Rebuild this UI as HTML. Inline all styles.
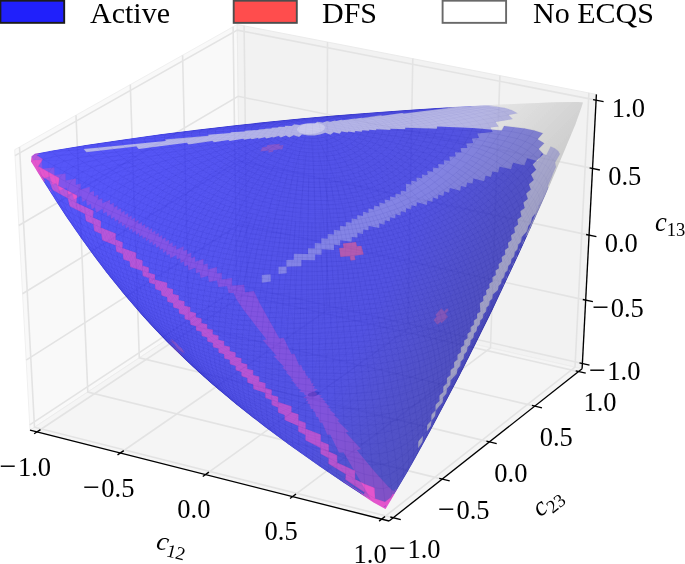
<!DOCTYPE html>
<html><head><meta charset="utf-8"><title>Elliptope</title>
<style>html,body{margin:0;padding:0;background:#fff;overflow:hidden}svg{display:block;font-family:"Liberation Serif",serif;fill:#000}</style>
</head><body>
<svg width="685" height="564" viewBox="0 0 685 564">
<polygon points="30,430.2 240.7,290.8 237.2,24.5 14.7,149.7" fill="#f9f9f9" stroke="#f0f0f0" stroke-width="1"/>
<polygon points="240.7,290.8 582.1,368.8 596.4,94.4 237.2,24.5" fill="#f2f2f2" stroke="#ebebeb" stroke-width="1"/>
<polygon points="30,430.2 389.1,521 582.1,368.8 240.7,290.8" fill="#f5f5f5" stroke="#ededed" stroke-width="1"/>
<g fill="none" stroke="#e3e3e3" stroke-width="1.6"><polyline points="36.8,432 247.3,292.3 244.1,25.8"/><polyline points="393.3,517.7 34.5,427.2 19.5,147"/><polyline points="29.7,424.9 240.6,285.8 582.4,363.5"/><polyline points="120.2,453 326.7,310.5 327.5,42"/><polyline points="442.3,479.1 87.8,392 76,115.2"/><polyline points="26.1,360.1 239.8,224.1 585.7,300.1"/><polyline points="205.4,474.6 407.8,329 412.8,58.6"/><polyline points="489.4,441.9 139.3,357.9 130.3,84.6"/><polyline points="22.5,293.7 239,160.9 589,235.1"/><polyline points="292.6,496.6 490.5,347.9 499.9,75.6"/><polyline points="534.8,406.1 188.9,325.1 182.6,55.2"/><polyline points="18.8,225.5 238.1,96.3 592.5,168.4"/><polyline points="381.6,519.1 575,367.1 588.9,92.9"/><polyline points="578.5,371.6 236.8,293.4 233.1,26.8"/><polyline points="15,155.6 237.3,30.1 596.1,100.1"/></g>
<defs><linearGradient id="bg" gradientUnits="userSpaceOnUse" x1="225.2" y1="-73.6" x2="584.8" y2="101.2"><stop offset="0" stop-color="#2020f8"/><stop offset="0.75" stop-color="#1f1fdc"/><stop offset="0.925" stop-color="#1d1dba"/><stop offset="1" stop-color="#1d1daf"/></linearGradient><linearGradient id="wg" gradientUnits="userSpaceOnUse" x1="500" y1="95" x2="570" y2="165"><stop offset="0" stop-color="#e2e2e2"/><stop offset="1" stop-color="#bcbcbc"/></linearGradient>
<clipPath id="sil"><path d="M34.7,153.7 53.3,150.2 86.8,144.8 127.9,138.7 161.3,134.1 199.9,129.2 236.4,124.9 301.4,118.3 338.5,115 377.4,111.9 415.9,109.2 451.2,107.1 501.2,104.5 556,102.2 577.6,101.9 582.9,102.4 581,108.6 575.3,124.5 563.4,153.1 545.6,194.8 530.9,227.8 518.3,255.5 491.9,311.4 476.5,342.6 459.7,375.7 431.1,429.7 415.7,457.8 407.5,472.3 385.5,509.1 373.7,502.6 343.4,482.8 319.5,466.6 289.1,445.1 264.8,427.1 236.1,404.5 210.5,382.9 198,371.7 185.9,360.5 166.9,341.9 154.9,329.4 142.7,316.2 124.2,294.8 106,272.2 93.2,255.3 81.1,238.6 65.5,215.9 55.3,200.3 43.9,182.3 31.1,161.4 31.5,156.2Z"/></clipPath></defs>
<g opacity="0.5" clip-path="url(#sil)">
<path d="M34.7,153.7 53.3,150.2 86.8,144.8 127.9,138.7 161.3,134.1 199.9,129.2 236.4,124.9 301.4,118.3 338.5,115 377.4,111.9 415.9,109.2 451.2,107.1 501.2,104.5 556,102.2 577.6,101.9 582.9,102.4 581,108.6 575.3,124.5 563.4,153.1 545.6,194.8 530.9,227.8 518.3,255.5 491.9,311.4 476.5,342.6 459.7,375.7 431.1,429.7 415.7,457.8 407.5,472.3 385.5,509.1 373.7,502.6 343.4,482.8 319.5,466.6 289.1,445.1 264.8,427.1 236.1,404.5 210.5,382.9 198,371.7 185.9,360.5 166.9,341.9 154.9,329.4 142.7,316.2 124.2,294.8 106,272.2 93.2,255.3 81.1,238.6 65.5,215.9 55.3,200.3 43.9,182.3 31.1,161.4 31.5,156.2Z" fill="url(#bg)"/>
<path d="M547.7,186.6 548.8,187.5 550.2,187.7 551.3,187.3 552.2,186.2 567.5,149.6 571.4,141.2 574.5,132.1 577.6,126 583.8,108.6 585.4,102.6 584.6,100.6 583.4,99.9 577.8,99.2 569,99.9 556.1,99.6 548,100.3 536.6,100.3 495,102.2 495,104.8 471.3,105.9 471.3,106.2 489.1,106.1 497.4,106.8 505.1,108.1 512,110.2 517.4,113.2 508.6,115 512.6,119.1 495.6,122 498.5,126.4 490.4,127.4 492.6,132.1 477.3,133.6 479,138.1 471.8,138.6 473.2,143.1 466.2,143.4 467.3,147.9 460.5,147.9 461.4,152.4 454.9,152.3 455.6,156.6 449.3,156.4 449.9,160.7 443.7,160.3 444.2,164.5 438.1,164 438.6,168.2 432.7,167.6 433.1,171.7 427.2,171.1 427.6,175.1 421.8,174.4 422.1,178.3 416.4,177.6 416.7,181.5 411.1,180.7 411.4,184.6 405.8,183.8 406.2,191.5 400.7,190.6 400.8,194.5 395.4,193.6 395.5,197.5 390,196.5 390.1,200.4 384.7,199.5 384.8,203.4 379.3,202.5 379.4,206.4 373.9,205.5 374,209.5 368.4,208.6 368.5,212.7 362.9,211.8 362.9,215.9 357.2,215.1 357.3,219.3 351.6,218.5 351.6,222.8 345.8,222 345.8,226.5 339.9,225.8 339.9,230.4 333.8,229.7 333.9,234.5 327.7,233.9 327.7,238.8 321.3,238.3 321.3,243.5 314.8,243.1 314.8,248.5 308,248.3 308,253.9 293.9,253.8 293.8,259.8 286.3,260 286.3,266.4 278.5,266.8 278.5,273.9 286.7,273.3 286.6,266.7 301.4,266.2 301.4,260.1 315.1,260.2 315.1,254.4 321.6,254.7 321.6,249.2 334,250 334.1,244.8 340.1,245.4 340.2,240.3 351.7,241.8 351.8,236.9 357.4,237.8 357.5,233.1 363,234 363.2,229.4 368.5,230.3 368.7,225.9 379.2,228 379.4,223.6 384.6,224.7 384.8,220.3 389.9,221.5 390.2,217.2 395.2,218.4 395.5,214.2 400.6,215.4 400.9,211.2 405.9,212.4 406.2,208.2 411.2,209.5 411.5,205.3 416.6,206.5 416.9,202.3 426.9,204.9 427.4,200.6 432.4,202 432.9,197.6 437.9,199 438.4,194.5 443.5,195.9 444.1,191.4 449.2,192.7 449.8,188.1 460.2,190.8 461,186 466.2,187.3 467.1,182.4 472.5,183.7 473.4,178.6 484.2,181.2 485.5,175.7 491,177 492.4,171.4 498.1,172.6 499.6,166.7 511,169.2 513.1,162.7 524.4,165.4 527.2,158.2 537.8,161.3 541.6,153.4 546.4,155.1 550.7,146.5 555,148.4 558.2,150.9 559.9,153.9 555.1,162.6 555.9,166.9ZM270.6,274.2 261.8,275 261.8,282.7 270.8,281.6Z" fill="url(#wg)"/>
<path d="M41.5,181.3 42.9,182.3 44.8,182 45.3,181.7 43.9,179.5 45.8,177.8 49.5,176.5 52.6,184.8 56.3,183.3 59.1,191 66.5,187.7 68.4,194.6 72.1,192.9 73.9,199.5 81.2,195.9 82.4,201.9 86,200.1 87.2,205.8 90.6,203.9 91.7,209.4 95,207.4 96.1,212.7 102.6,208.7 103.3,213.6 106.6,211.7 107.3,216.5 110.4,214.4 111.1,219.1 114.2,217 114.9,221.6 117.9,219.5 118.6,224 121.5,221.9 122.2,226.3 125.1,224.2 125.7,228.5 128.6,226.4 129.2,230.6 132,228.5 132.6,232.8 135.5,230.7 136,234.9 138.9,232.8 139.4,236.9 142.2,234.9 142.8,239 145.6,237 146.1,241.2 149,239.1 149.5,243.4 152.3,241.3 152.9,245.6 155.7,243.6 156.3,247.9 159.1,246 159.7,250.3 162.6,248.4 163.2,252.9 166.1,251 166.7,255.6 169.6,253.7 170.3,258.4 176.3,254.9 176.9,259.7 180.1,258.1 180.6,263 183.9,261.4 184.5,266.6 187.8,265.1 188.6,270.4 195.3,267.7 196.1,273.3 199.6,272.1 200.5,277.9 208,275.9 209,282.1 217,280.5 218.2,287.1 227,286.2 228.7,293.1 233.5,293 236.5,299.4 243.8,310.3 266.6,339.6 262.6,339.9 276.4,355.7 273.7,356 284.2,367 282.2,367.2 287.5,372.3 285.9,372.5 291.4,377.4 290.2,377.6 293.1,379.9 291.1,380.3 294.3,382.6 293.5,382.8 296.8,385 294.9,385.4 298.7,387.6 297,388.1 301.4,390.1 299.1,391.4 304.6,392.7 304.2,393.5 304.4,394.4 306.7,395.8 303.3,397.7 307.3,398.7 305.8,401 308.2,401.3 307.4,403.7 309.8,403.9 309.7,406.4 310.6,406.5 310.7,409 313.1,409.1 313.5,411.7 314.9,411.8 316.3,417.1 318.1,417.1 320,422.7 322.2,422.7 327.2,434.7 330.3,434.7 339,452.4 343.6,452.4 370.5,498.7 365.7,495.6 368.2,499.9 372.2,504.8 383.8,509.9 385.7,509.3 386.6,508 392.4,502.5 398.3,492.9 398.6,491.7 398.2,490.5 395.8,489 394.5,491.1 392.2,490.2 387.7,486.1 374.6,471.4 356.9,450.3 361,449 345.8,432.6 348.7,431.8 337.5,420.7 339.5,420.1 333.9,415.1 335.5,414.6 329.8,409.9 331,409.5 328,407.2 330.1,406.6 326.8,404.5 327.6,404.2 324.2,402.1 326.1,401.4 322.3,399.5 324,398.7 319.6,397.1 321.9,395.4 316.3,394.6 316.7,393.8 316.5,392.8 314.2,391.5 317.6,389.2 313.6,388.6 315.1,386 312.8,385.9 313.5,383.3 311.1,383.3 311.3,380.7 310.3,380.7 310.2,378.1 307.9,378.2 307.4,375.6 306.1,375.7 304.8,370.4 303,370.6 301.2,365.1 299.1,365.3 294.4,353.8 291.4,354.1 283.6,337.8 279.3,338.3 259.8,303.3 253.9,291 245.1,292.3 244.1,284.7 232.2,285.5 232.1,278.1 221.8,279.5 221.7,272.7 216.9,273.6 216.9,267.1 207.8,269.4 207.7,263.4 203.4,264.7 203.4,259 195.2,261.8 195.1,256.4 191.2,257.9 191.2,252.7 187.3,254.3 187.3,249.4 183.5,251 183.6,246.2 176.3,249.7 176.2,245 172.7,246.8 172.6,242.3 169.2,244.2 169.1,239.8 165.7,241.6 165.6,237.3 162.2,239.2 162.2,234.9 158.8,236.9 158.8,232.7 155.4,234.6 155.4,230.5 152,232.4 152,228.3 148.7,230.3 148.6,226.2 145.3,228.2 145.2,224.1 141.9,226 141.9,221.9 138.5,223.9 138.5,219.8 135.1,221.8 135.1,217.6 131.7,219.6 131.6,215.4 128.2,217.3 128.2,213.1 124.7,215 124.6,210.7 121.1,212.6 121.1,208.2 117.5,210 117.5,205.5 113.8,207.4 113.8,202.8 110,204.5 110.1,199.8 102.4,203.2 102.2,198.2 98.3,199.9 98.2,194.7 94,196.3 94,190.9 89.7,192.4 89.8,186.8 80.7,189.5 80.6,183.5 75.8,184.7 76,178.4 65.7,180.4 65.6,173.5 54.6,175.1 54.3,167.5 42.5,168.5 41.8,160 34.6,159.9 32.7,160.6 32.9,157.9 29.8,159.1 28.5,160.5 28.6,162.4 35.8,174.2 36.7,174.9 38.1,175.1ZM38.3,170.3 38.3,170.3 38.4,170.4ZM384.9,507.1 384.3,506.7 386.3,504.9Z" fill="#d41fc2"/>
<path d="M262.4,147.2 260.2,151.4 268.9,150.5 268.1,152.5 272.9,152.1 273.6,150.1 282.3,149.2 283.6,145.1 279.4,145.5 280,143.7 267.5,144.9 266.6,146.8ZM437.4,324.8 440.5,321.7 441.6,323.3 448,316.9 445.6,313.5 448.6,310.2 447.1,308.3 444.2,311.5 441.3,308.3 435.3,315.1 436.7,316.6 433.6,319.9ZM183.3,353.4 182.4,351.8 185.4,354.1 182,348.5 178.7,346 177.9,344.4 171,338.6 172.8,341.9 169.8,339.4 171.2,341.9 174.3,344.5 176.7,348ZM167.4,340.3 169.3,343.4 172.4,346.1 174.9,349.8 182,355.5 183.3,355.9Z" fill="#dc2f7a"/>
</g>
<g opacity="0.5" clip-path="url(#sil)">
<path d="M34.7,153.7 53.3,150.2 86.8,144.8 127.9,138.7 161.3,134.1 199.9,129.2 236.4,124.9 301.4,118.3 338.5,115 377.4,111.9 415.9,109.2 451.2,107.1 501.2,104.5 556,102.2 577.6,101.9 582.9,102.4 581,108.6 575.3,124.5 563.4,153.1 545.6,194.8 530.9,227.8 518.3,255.5 491.9,311.4 476.5,342.6 459.7,375.7 431.1,429.7 415.7,457.8 407.5,472.3 385.5,509.1 373.7,502.6 343.4,482.8 319.5,466.6 289.1,445.1 264.8,427.1 236.1,404.5 210.5,382.9 198,371.7 185.9,360.5 166.9,341.9 154.9,329.4 142.7,316.2 124.2,294.8 106,272.2 93.2,255.3 81.1,238.6 65.5,215.9 55.3,200.3 43.9,182.3 31.1,161.4 31.5,156.2Z" fill="url(#bg)"/>
<path d="M454.4,106.9 446.2,107.6 448.6,108 403.9,113.4 402.2,112.9 382.3,115.7 380.9,115.2 362.5,118.1 361.5,117.8 355.7,118.8 354.8,118.4 342.9,120.2 341.4,119.8 336.2,120.9 334.9,120.5 330.1,121.8 327.1,121.1 323,122.5 317.3,121.7 315,123.4 306.4,123.5 302.3,124.2 299.5,125.1 294.2,124.3 291.6,126.1 285.3,125.8 284.7,126.7 278.3,126.7 278.1,127.6 271.5,127.7 271.5,128.5 264.8,128.7 264.9,129.1 258.2,129.5 258.3,130 244.5,130.7 244.8,131.4 230.4,132.3 230.8,133.1 207.9,134.8 208.5,135.8 164.9,139.5 165.8,141.1 83.6,148.9 86.3,152.2 136.4,146.5 138.6,148.9 186.8,142.7 188.4,144.4 212.4,140.9 213.8,142.3 228.3,140 229.5,141.1 243.1,138.7 244.1,139.7 250.6,138.4 251.6,139.3 257.8,138 258.7,138.7 264.7,137.3 266.5,138.6 272.2,137.1 273,137.7 278.5,136.1 280.8,137.4 285.8,135.6 289.4,137.4 293.6,135.2 299.1,137 301.9,134.4 308.1,135.4 314.5,135.5 320.2,134.6 325.4,132.7 330.4,134.8 333.9,132.3 339.7,133.7 341.5,131.6 347.8,132.6 348.4,131.5 354.8,132.4 355.4,131 361.9,131.7 362.4,130.2 369.1,130.7 369.3,129.8 376.2,130.2 376.3,129.2 390.4,130 390.5,128.7 405.2,129.3 405.3,127.8 436.9,128.8 437.3,126.6 472.8,127.9 501.8,130.4 504.1,126.1 524.6,128.4 534.3,130.4 542.8,133.2 537.6,139.2 544.2,143.3 538.6,149.1 543.4,154.1 532.6,164.6 536.1,169.8 531,174.5 533.7,179.9 528.8,184.2 530.8,189.6 526.1,193.6 527.8,199 523.3,202.6 524.6,207.9 520.3,211.3 521.4,216.4 517.3,219.6 518.1,224.6 514.1,227.6 514.9,232.5 511,235.3 511.6,240.1 507.9,242.7 508.4,247.5 504.8,250 505.2,254.6 501.6,257 502.1,261.5 498.5,263.9 498.9,268.3 495.4,270.6 495.8,275 492.3,277.2 492.6,281.6 489.2,283.7 489.5,288.1 486.1,290.2 486.4,294.5 483,296.6 483.3,300.9 479.8,303 480.3,311.7 477,313.8 477.1,318.2 473.8,320.4 473.9,324.8 470.6,327 470.7,331.4 467.4,333.7 467.5,338.2 464.1,340.6 464.2,345.1 460.8,347.6 460.9,352.3 457.4,354.8 457.5,359.6 454,362.3 454.1,367.2 450.5,370 450.5,375.1 446.9,378.1 446.9,383.3 443.2,386.6 443.2,391.9 439.4,395.4 439.4,401 435.5,404.8 435.4,410.4 431.4,414.6 431.2,420.4 427.2,425.1 426.8,431.5 430.9,426 431.5,420.6 435.2,416 435.7,410.6 442.7,402.3 443.2,397.3 446.5,393.5 447,388.6 450.3,385.1 450.7,380.2 456.9,373.7 457.4,369.1 460.3,366.1 460.8,361.6 463.7,358.7 464.2,354.3 467,351.6 467.5,347.2 470.3,344.6 470.7,340.3 473.5,337.8 474,333.6 476.7,331.1 477.1,326.9 479.9,324.6 480.3,320.4 483,318.1 483.4,313.9 486.1,311.6 486.5,307.5 489.2,305.2 489.7,301 492.4,298.8 492.8,294.6 498,290.1 498.6,285.9 501.2,283.6 501.8,279.4 504.3,277.1 505,272.7 507.6,270.4 508.2,266 510.8,263.5 511.5,259 514.2,256.5 514.9,251.9 517.6,249.3 518.3,244.6 521,241.9 521.8,237 527.2,231.3 528.3,226.1 531,223.1 532.1,217.6 535.8,213.2 525,237.2 529.3,232.6 530.6,227.2 533.4,223.8 534.5,218.7 539.5,212.6 541.3,206.4 545.6,200.5 547.9,196 571.9,139.7 574.9,131.1 577.8,125.4 583.5,109.5 585.4,102.4 585.1,101.2 584,100.1 578.6,99.2 569,99.9 555.1,99.6 545.3,100.3 535.1,100.3 495,102.3 495,104.9ZM539,205.3 539.7,204.4 538.6,206.8ZM508.4,273 510,271 510.3,269ZM505.3,279.5 506.8,277.7 507,275.9ZM502.3,286 503.6,284.2 503.8,282.7ZM499.3,292.3 500.4,290.7 500.6,289.4ZM418.3,441.3 418,448.3 422.5,442.1 423.1,435.7ZM521.5,244.9 523.5,242.3 523.9,239.6ZM518.2,252.2 520,249.9 520.4,247.4ZM514.9,259.3 516.6,256.9 516.9,255ZM511.6,266.2 513.3,263.9 513.6,262.1Z" fill="url(#wg)"/>
<path d="M28.4,159.8 28.4,161.9 35.9,174.2 40.7,178.7 45.1,181.4 42.2,176.7 49.2,181 52.6,189.9 67.8,198.6 69.6,206.3 84.9,214 85.9,221 93.2,224.3 94.3,230.9 101.2,234 102.3,240.2 115.6,245.6 116.2,251.4 122.7,253.9 123.4,259.4 129.6,261.6 130.2,266.9 142.3,271 142.7,276.1 148.7,277.9 149.1,282.8 154.9,284.6 155.3,289.3 161,291 161.4,295.6 167,297.2 167.3,301.7 172.9,303.2 173.2,307.6 178.7,309.1 179,313.4 184.4,314.9 184.7,319.2 190.1,320.6 190.4,324.8 195.8,326.2 196.1,330.4 201.4,331.8 201.7,336 207.1,337.4 207.3,341.6 212.7,343 212.9,347.2 218.3,348.6 218.6,352.8 224,354.3 224.2,358.5 229.7,360.1 229.9,364.3 235.5,366 235.7,370.2 241.3,372 241.5,376.3 247.1,378.1 247.3,382.5 253.1,384.5 253.3,389 265.2,393.1 265.3,397.9 271.5,400.1 271.6,405 277.9,407.4 278,412.4 284.5,415.1 284.6,420.1 298.2,426.1 298.2,431.5 305.4,434.9 305.4,440.3 320.5,447.9 320.5,453.8 328.5,458.2 328.4,463.8 345.7,474.2 345.3,479.6 364.5,492.4 363.8,494.3 343.1,480.8 343.5,481.4 361.5,493.4 360.8,495.7 361.5,497.5 372.1,504.8 381.4,508.9 384.6,511.4 386,511.5 387.3,510.8 388,509 387.3,507.3 392.9,501.7 394.9,496.7 394.8,495.5 394.2,494.4 392.9,493.7 390.6,497.5 384.9,501.8 375.2,498.5 374.5,487.7 364.8,484 355.2,479.2 355.1,470.8 337.3,462.5 337.2,455.2 328.9,451.5 328.8,444.5 320.8,441.3 320.8,434.5 305.7,428.8 305.7,422.7 298.5,420.2 298.5,414.3 291.5,412 291.6,406.3 278.2,402.1 278.2,396.8 271.7,394.9 271.8,389.8 265.5,388 265.5,383 259.3,381.4 259.3,376.5 253.2,375 253.3,370.3 247.3,368.8 247.3,364.2 241.4,362.8 241.5,358.2 235.6,356.9 235.7,352.4 229.9,351.1 229.9,346.6 224.2,345.4 224.2,341 218.5,339.8 218.6,335.4 212.8,334.2 212.9,329.8 207.2,328.6 207.3,324.2 201.6,323 201.6,318.6 195.9,317.3 196,312.9 190.2,311.6 190.3,307.1 184.5,305.8 184.6,301.3 178.8,299.9 178.9,295.3 173,293.9 173.1,289.2 167.1,287.6 167.3,282.8 155,279.5 155.1,274.6 148.8,272.7 148.9,267.6 142.5,265.6 142.7,260.4 136.1,258.2 136.3,252.8 122.6,248 122.7,242.2 115.6,239.5 115.9,233.5 100.9,227.4 101,221 93.1,217.5 93.6,210.8 76.5,202.7 77.1,195.5 58.4,185.8 59.4,178.1 38.4,166.3 43,159.2 36.7,154.9 40.1,154.2 35.7,151.2 33.6,151.3 29.3,154.9 28.8,159.2ZM384.3,506.7 386.3,504.8 384.9,507.1ZM50.2,190.8 52.2,192.6 49,187.6Z" fill="#e222be"/>
<path d="M356,242 342.8,243.4 343.5,247.8 339.1,248.1 340.4,257.1 349.7,256.2 350.5,260.6 355.5,260 354.6,255.7 363.7,254.5 361.4,245.7 357,246.3Z" fill="#dc2f7a"/>
</g>
<ellipse cx="311" cy="128.5" rx="14" ry="5.5" fill="#fff" opacity="0.3" transform="rotate(-5.5 311 128.5)"/>
<ellipse cx="313.5" cy="394" rx="6" ry="2.2" fill="#1a1a9a" opacity="0.3" transform="rotate(-12 313.5 394)"/><g fill="none" stroke="#00008c" stroke-width="0.6" clip-path="url(#sil)"><path d="M318.5,116.8 277.8,120.6M332.5,115.5 264,122M342.6,114.7 253.8,123.1M351.7,113.9 292.4,120 243.2,124.2M361.9,113.1 291.2,120.8 235,125.1M370.6,112.4 289.9,121.7 225,126.3M380,111.7 288.8,122.7 216,127.3M390.1,111 373.2,112.7 320.8,120 287.6,123.8 259.1,126 208.1,128.2M398.2,110.4 380.1,112.4 318.3,121.4 286.6,125 254,127.4 208.9,128.6 198.4,129.4M409.9,109.7 387.3,112.1 321.8,122.1 285.5,126.3 245.9,129 198.9,129.8 189.8,130.5M419.2,109 398.5,111.3 325.6,122.8 284.5,127.7 240.3,130.6 180.7,131.6M429.2,108.4 406.9,110.9 329.6,123.6 283.5,129.1 234.5,132.3 179.5,132.4 169.6,133.1M439.8,107.8 415.8,110.6 333.9,124.4 282.5,130.6 253.6,132.9 228.5,134.1 204.1,134.4 170.2,133.7 159.5,134.4M451.2,107.1 429.8,109.6 338.4,125.3 281.6,132.2 251.6,134.6 222.4,135.9 196.8,136.1 157.9,135.2 148.9,135.8M463.5,106.4 440.3,109.2 380.2,120.2 347.2,125.6 312.9,130.3 280.7,133.8 246.4,136.5 216.1,137.9 185.9,138 147.4,136.7 137.7,137.4M472,106 451.5,108.8 391.6,120 356.6,125.9 316.8,131.4 279.8,135.4 244.4,138.3 209.6,139.9 178,140 136.3,138.4 125.7,139.1M480.6,105.8 366.7,126.2 324.9,132 279,137.1 235.3,140.6 199.3,142.2 165.9,142.1 124.5,140.3 112.9,141M489.1,106 412.2,120.6 372.9,127.2 325.3,133.7 274.3,139.2 229.6,142.8 188.5,144.6 157.2,144.5 111.9,142.3 101.6,142.6M497.4,106.6 432.2,119.4 384.2,127.6 329.9,134.9 269.5,141.3 219.9,145.3 177.2,147.1 143.9,147 98.5,144.6 86.8,144.8M505.2,107.9 441.8,120.5 391.2,128.8 330.3,136.7 260.7,143.9 205.9,148.2 161.1,150 129.8,149.8 79.2,147 70.8,147.3M512.1,110.1 451.8,121.8 393.2,130.9 326.4,139.1 239.5,147.6 187,151.5 143.8,153.2 109.6,152.8 63.2,150 53.3,150.2M517.8,113.3 462.1,123.5 411.7,131 354.5,138 279.1,145.7M266.7,146.9 188.5,153.7 135.1,156.6 93.2,156.5 68.2,155.4 39.2,153.1 34.7,153.7M512.9,119.2 465.2,126.8 413.8,133.6 282.8,147.2M261.5,149.2 185.9,156.3 136.3,159.9 88.6,161.3 34.6,160.1 31.1,161.4M498.7,126.5 404.2,137.6 161.1,161.1 107.5,165.2 47.9,168.1 42.3,168.7 38.3,169.9 37.7,172.3M492.8,132.2 272.7,151.9 65.5,173.7 54.5,175.3 45.7,177.7 43.6,179.7 43.9,182.3M479.2,138.2 342.8,147.8 258.6,155.3 209.9,160.6 151.2,168 91.7,176.1 65.5,180.6M56.4,183.1 52.7,184.6 50.1,186.5 49,188.8 49.7,191.6M560.1,153.9 558.3,150.8 555.1,148.3 550.6,146.4M473.4,143.2 414.8,145.8 348.5,149.7 299.3,153.4 253.1,157.8 203.6,163.6 153.5,170.7 105.3,178.6 75.7,184.8M66.6,187.5 59.2,190.8 56.5,192.7 54.8,194.9 54.3,197.4 55.3,200.3M554.8,173.4 555.9,169.6 556.1,165.9 555.2,162.6 553.3,159.7 550.4,157.1 541.5,153.2M467.5,148 416.2,149.1 354.4,151.8 299.1,155.5 252,159.9 201.8,166.2 151.2,174.1 108.6,182.4 80.6,189.7M72.2,192.7 65.2,196.3 60.5,200.5 59.5,202.9 59.4,205.5 60.5,208.3M550.1,184.5 551.9,177.3 551.6,173.9 550.6,170.8 548.6,167.9 542.1,163.1 537.7,161.1 527.1,158M461.6,152.5 411.4,152.5 355.1,154.2 303.9,157.3 255.7,161.6 204.6,168.1 158.5,175.8 116.6,184.8 89.5,192.6M81.3,195.7 70.9,201.2 66.1,205.5 64.1,210.3 64.3,213 65.5,215.9M545.6,194.8 547.7,188 547.8,184.7 546.1,178.5 544.1,175.7 541.4,173.1 534,168.7 524.3,165.2 513,162.5M455.8,156.8 406.5,155.8 355.7,156.7 303.7,159.4 254.8,163.8 207.6,169.9 161.2,178.2 124.4,186.7 106.6,192 93.9,196.5M86.1,199.9 76.2,205.6 71.5,210 68.9,214.8 68.6,217.4 70.3,222.9M541.3,204.6 543.6,198 543.9,191.7 541.8,185.8 537.2,180.5 530.3,175.9 521.4,172.1 510.9,169 499.5,166.5M450,160.8 401.6,159 350.9,159.4 303.6,161.7 253.9,166.1 206,172.5 164,180.5 127.6,189.7 110.3,195.3 98.1,200.1M90.7,203.7 84.1,207.6 78.7,211.8 74.8,216.4 73.6,218.9 73,224.1 73.6,226.8 76.8,232.4M537.2,213.7 540.2,204.4 539.9,198.3 537.6,192.6 533.1,187.4 526.6,182.8 518.3,178.7 508.7,175.3 492.3,171.2M444.4,164.7 402.5,162.3 351.5,162 303.5,163.9 253,168.3 209.2,174.4 166.9,182.7 130.9,192.4 113.9,198.4 102.2,203.5M95.1,207.2 88.8,211.2 83.5,215.5 78.3,222.6 77,227.7 77.2,230.4 79.2,235.8 81.1,238.6M533.3,222.4 536.5,213.5 536.7,207.6 535.1,201.9 533.6,199.2 529.2,194 523,189.3 510.9,183.2 501.4,179.8 485.4,175.6M438.8,168.4 397.5,165.5 352,164.7 303.4,166.3 257.1,170.1 212.6,176.2 174.6,183.7 156.2,188.3 138.4,193.6 121.6,199.6 109.9,204.7M102.7,208.5 90.6,216.7 86,221.2 82.8,226 81.1,231.1 81.3,236.3 83.4,241.7 85.3,244.4M530.9,227.8 533.3,219.2 532.4,210.8 527.8,202.8 522.7,197.9 516.1,193.4 503.8,187.4 489.3,182.4 473.3,178.4M433.2,171.9 392.4,168.5 347,167.4 303.3,168.6 256.2,172.5 211.2,178.9 173,186.9 141.6,196.1 125.1,202.3 113.6,207.6M106.7,211.4 97.5,217.6 92.5,222 88.6,226.7 86,231.6 84.8,236.7 85.3,242 89.3,250M527.3,235.8 529.9,227.5 529.6,219.3 526,211.3 519.1,203.9 509.3,197.2 496.9,191.3 482.7,186.4 467,182.2M427.7,175.3 387.3,171.5 341.8,170.1 297.8,171.4 255.4,174.9 214.8,180.7 176.2,189 144.9,198.4 128.5,204.9 117.3,210.3M110.6,214.2 101.7,220.4 96.8,224.9 92.9,229.6 90.1,234.5 88.7,239.6 88.6,244.8 90.1,250 93.2,255.3M523.8,243.5 526,238.1 526.9,232.8 526.1,224.7 522.3,217 515.7,209.6 506.3,202.9 494.6,196.9 481.1,191.6 460.9,185.8M422.3,178.5 382.2,174.4 342.2,172.9 297.6,173.9 254.6,177.4 213.4,183.5 179.5,191 148.1,200.7 131.9,207.3 121,212.8M114.3,216.8 105.6,223.1 100.8,227.6 96.9,232.3 94.1,237.2 92.1,244.8 92.3,249.9 93.9,255.1 96.9,260.3M520.4,250.9 522.6,245.7 523.8,240.4 523.4,232.6 521.7,227.4 518.8,222.4 512.3,215.1 503.3,208.4 488.2,200.4 470,193.5 449.7,187.9M416.9,181.7 377,177.3 336.9,175.7 297.4,176.4 253.7,180 212.1,186.3 178.1,194.2 160,199.8 147.2,204.5 135.3,209.6 124.5,215.3M118,219.3 109.5,225.6 104.8,230.2 99.3,237.2 96.9,242.1 95.4,249.7 95.9,254.9 98.9,262.6 102.5,267.7M517.1,258 519.4,253 520.7,247.8 520.9,242.7 520.1,237.6 516.9,230 513.5,225.1 509,220.4 497.1,211.6 481.9,203.7 463.9,196.9 444,191.2M411.5,184.8 371.8,180.2 331.4,178.5 291.6,179.3 252.9,182.6 215.9,188.2 181.5,196.2 163.3,201.9 150.5,206.7 138.7,211.9 128.1,217.6M121.6,221.6 113.3,228 106.6,234.9 101.8,242 99.8,247 98.8,254.5 99.4,259.6 102.5,267.2 106,272.2M515.1,262.5 517,257.5 517.9,252.5 517.9,247.4 516.9,242.4 514.9,237.4 512,232.6 503.2,223.2 491,214.6 475.8,206.8 458,200.1 438.3,194.4M406.2,187.8 372.2,183.6 331.7,181.4 291.3,182 252.1,185.3 214.7,191.2 184.9,198.2 166.6,203.9 153.9,208.8 142.1,214.1 131.5,219.8M125.2,223.9 116.9,230.3 110.3,237.1 105.5,244.3 103.4,249.1 102,256.6 102.9,264.1 106,271.7 109.4,276.6M511.9,269.3 514.6,261.9 515.2,256.9 514.9,252 513.7,247.1 511.7,242.2 508.7,237.4 500.2,228.1 488.5,219.5 473.9,211.7 456.8,204.7 432.7,197.4M406.3,191.7 372.6,187 331.9,184.4 296.9,184.6 256.8,187.5 218.7,193.2 188.5,200.2 170,206 157.2,210.9 145.5,216.2 135,222M128.7,226.1 120.5,232.5 113.9,239.3 109.1,246.4 106.1,253.6 105.2,261.1 106.2,268.5 109.4,275.9 112.7,280.8M508.8,275.9 510.9,271.1 512.1,266.2 512.4,261.3 511.4,254 507.1,244.4 503.7,239.7 497.2,232.9 485.9,224.3 468,214.6 451.1,207.7 427.3,200.4M401,194.7 367.3,189.9 332.2,187.5 296.7,187.5 256,190.3 233.7,193.3 217.5,196.2 187.3,203.6 160.6,213 148.8,218.4 138.4,224.2M132.2,228.3 121.7,236.9 115.7,243.7 111.4,250.8 108.9,258 108.3,265.4 109.6,272.7 112.8,280 117.9,287.2M505.7,282.4 509.1,272.8 509.7,267.9 508.9,260.7 507.5,255.9 503.9,248.8 500.6,244.2 494.2,237.5 480.2,227 462.3,217.4 441,209.1 416.8,202.1M395.6,197.7 361.8,192.9 326.4,190.5 290.5,190.6 255.2,193.3 221.7,198.3 190.9,205.7 176.9,210.1 164,215.1 152.2,220.5 141.8,226.3M135.6,230.4 125.2,239 119.2,245.8 114.8,252.7 112.2,259.9 111.4,269.5 112.8,276.8 116.1,284 121.1,291.1M502.7,288.8 504.9,284 506.7,276.8 506.9,272 506,264.8 504.4,260.1 500.8,253.2 497.5,248.6 491.3,242 477.8,231.5 467.9,225.7 456.8,220.2 435.5,212 411.4,205.1M390.3,200.6 356.3,195.8 320.6,193.6 284.2,194 254.4,196.3 226,200.5 194.6,207.8 180.4,212.2 167.4,217.2 155.6,222.6 145.1,228.4M139,232.5 130.9,238.9 122.6,247.8 118.2,254.7 114.9,264.1 114.4,273.6 116,280.7 119.3,287.8 124.2,294.8M499.7,295.1 501.9,290.3 503.9,283.1 504.3,278.4 503.6,271.2 502.3,266.6 499.1,259.6 494.5,252.9 488.4,246.3 481,240 472.4,234 455.1,224.7 430.1,214.9 406,208M384.9,203.6 350.8,198.9 320.7,196.9 283.8,197.1 253.6,199.5 224.9,203.8 208.7,207.3 193.5,211.4 170.8,219.3 159,224.7 148.5,230.5M142.4,234.6 134.3,240.9 126,249.7 121.6,256.5 118,265.8 117.2,275.2 119.2,284.6 123.9,293.9 129.2,300.7M496.7,301.4 498.9,296.6 501,289.4 501.6,282.2 500.7,275.2 499.3,270.5 496.1,263.7 491.5,257 485.6,250.6 478.4,244.3 470,238.4 460.5,232.7 449.7,227.3 424.8,217.7 400.7,211M379.5,206.6 345.1,202 314.6,200.2 283.5,200.4 252.8,202.8 223.8,207.3 197.4,213.6 174.3,221.5 162.4,226.9 151.9,232.7M145.7,236.7 137.7,243 129.4,251.7 123.7,260.6 120.6,269.8 120.2,279 122.3,288.3 126.9,297.4 132.1,304.2M494.9,305.2 496.9,300.3 498.6,293.1 498.9,286 497.8,279 495.4,272.1 491.7,265.4 486.8,258.9 480.6,252.6 473.3,246.6 464.8,240.8 444.3,230 419.4,220.6 395.4,214M374.1,209.7 345.3,205.8 314.6,203.7 283.1,203.8 252,206.2 222.7,210.8 196.3,217.4 173.7,225.5 155.3,234.9M149.1,238.9 141.1,245.1 132.7,253.6 127,262.5 123.7,271.4 123,280.5 124.6,289.6 128.6,298.6 135,307.5M491.9,311.4 494.8,304 496.2,296.8 496.2,289.7 494.9,282.7 492.4,275.9 488.7,269.3 483.9,262.9 477.9,256.7 470.8,250.7 462.5,245 442.8,234.3 418.6,224.9 390,217M368.6,212.8 339.5,209.1 308.3,207.2 276.3,207.7 251.1,209.8 227.2,213.4 200.2,219.8 177.3,227.9 158.7,237.1M152.5,241.1 142.1,249.3 134.4,257.8 129.1,266.5 126.3,275.3 125.8,284.2 126.5,288.7 128.4,295.3 133,304.2 139.8,313M488.9,317.5 491.8,310.1 493.4,302.8 493.6,295.6 492.6,288.6 490.5,281.8 487.1,275.2 482.7,268.8 475.2,260.6 465.7,252.9 457.4,247.3 437.6,237 413.4,227.8 384.7,220.2M363.1,216.1 333.6,212.5 308.3,211 275.9,211.4 250.3,213.5 226.1,217.2 199.2,223.8 180.9,230.3 162.1,239.5M155.9,243.4 145.5,251.4 137.7,259.8 132.4,268.3 130.6,272.6 129,279.1 128.7,287.8 130.6,296.6 136,307.5 142.7,316.2M484.5,326.3 488.1,318.7 490.2,311.2 491,303.9 490.3,294.5 488.4,287.6 484.2,278.9 479.9,272.6 472.5,264.5 463.3,256.9 455.2,251.4 436,241.2 420.8,235.1 408.1,230.8 379.3,223.4M357.5,219.5 327.5,216.1 301.8,214.9 275.4,215.2 249.4,217.4 225,221.2 203.3,226.5 184.5,232.9 165.5,241.9M159.3,245.7 148.8,253.6 141,261.8 135.6,270.1 132,280.7 131.4,289.2 133.6,299.9 139,310.7 147.4,321.4M481.4,332.6 485.1,324.8 487.3,317.1 488.3,309.7 487.9,300.2 486.3,293.4 482.5,284.6 477,276.3 469.8,268.3 460.9,260.8 450.2,253.7 437.8,247 427.3,242.4 411.5,236.5 398.4,232.5 368.6,225.7M351.8,223 327.6,220.3 301.7,219 274.9,219.3 248.5,221.5 223.9,225.4 202.3,230.8 184,237.3 169,244.4M162.7,248.2 152.2,255.9 142.7,265.9 137.8,274.1 134.6,284.4 134.3,292.7 136.6,303.2 141.9,313.8 150.2,324.4M478.3,339 482,330.9 484.9,320.5 485.7,313.1 485,303.6 483.4,296.8 479.6,288.1 474.2,279.9 467.1,272.1 458.4,264.7 448.1,257.7 436,251.2 425.8,246.6 410.5,240.9 397.7,237 378.7,232.3 363,229.2M346,226.7 321.3,224.2 294.8,223.2 267.6,223.9 247.6,225.7 228.8,228.6 206.5,233.8 187.8,240.1 172.6,247.1M166.2,250.8 155.6,258.3 146.1,268.1 140.1,278 137.3,288 137.4,298.2 140.4,308.5 146.2,318.9 154.9,329.4M476.5,342.6 479.9,334.3 482.4,323.9 483,316.4 482.2,306.9 479.7,298 475.5,289.5 469.8,281.5 462.5,273.9 453.6,266.8 443.1,260.1 431,253.8 420.7,249.4 405.3,243.9 392.4,240.2 373.3,235.7 357.4,232.9M340.1,230.5 314.9,228.4 294.7,227.7 266.9,228.4 246.6,230.2 227.7,233.2 205.6,238.5 191.6,243.1 176.2,249.9M169.7,253.5 156.8,262.7 147.9,272.2 142.4,281.8 140,291.6 140.4,301.6 141.9,307.6 144.3,313.7 150.6,323.9 159.6,334.4M474.6,346.1 477.6,337.7 479.8,327.1 480.3,319.6 479.3,310.2 476.7,301.3 472.6,292.9 467,285 459.8,277.6 451.2,270.6 441,264.1 429.2,257.9 415.6,252.3 400.2,247.1 387.2,243.6 367.8,239.4 351.7,236.8M334,234.6 314.9,233.1 294.5,232.4 273.4,232.8 252.4,234.2 232.7,236.9 215.1,240.5 200,244.8 183.4,251.3M176.5,254.7 165,261.7 154.5,270.7 147.6,280 144.9,285.6 143.3,291.3 142.8,300.9 143.7,306.8 145.6,312.7 152,324.7 162.2,337.1M471.8,351.9 474.6,346.1M472.5,349.5 475.2,341 477.2,330.3 477.4,320.4 475.9,311.1 472.9,302.4 468.4,294.3 462.6,286.6 453.2,277.7 444,271.1 433.3,265 421,259.2 406.9,254 390.8,249.3 377.2,246.1 357,242.4 340,240.2M327.8,239 308.2,237.8 287.2,237.4 265.6,238.1 251.5,239.2 231.6,241.9 214.2,245.6 199.5,249.9 187.2,254.6M180.2,257.8 166.2,266.3 156.3,275 149.9,284 147.4,289.4 146,294.9 145.5,300.5 145.9,306.1 147.2,311.9 149.4,317.7 156.3,329.6 166.9,341.9M466.8,361.7 472.5,349.5M470.2,352.9 472.7,344.2 474.4,333.5 474.5,323.5 472.9,314.3 469.9,305.7 465.6,297.6 459.8,290.1 450.6,281.4 439.3,273.4 428.5,267.5 416,262.1 401.8,257.2 385.5,252.8 371.8,249.9 351.3,246.6 334,244.6M321.5,243.7 287,242.7 265,243.4 250.5,244.6 236.9,246.3 218.8,249.6 203.6,253.7 191.1,258.1M184,261.2 169.8,269.3 159.9,277.6 155.6,282.7 152.3,287.9 150.1,293.1 148.8,298.5 148.4,303.9 148.8,309.4 150.2,315 153.2,322.6 160.7,334.3 171.6,346.6M463.3,368.6 470.2,352.9M467.8,356.1 471.1,341.8 471.7,334 471.5,326.6 470.5,319.6 468.6,313 466,306.8 462.7,300.9 453.7,290 441.7,280.2 426.4,271.5 407.6,263.9 384.5,257.4 356.3,252.3 327.8,249.4 294.1,248.2 264.3,249 235.8,251.9 212.7,256.5 195.1,262M187.9,264.9 173.6,272.4 167.1,277.1 161.9,281.9 157.9,286.8 154.8,291.8 152.8,296.8 151.6,302 151.3,307.2 151.8,312.5 153.2,318 156.2,325.4 160.7,333.1 165,339 176.3,351.3M457.8,379.2 463,368.8 467.8,356.1M465.3,359.3 468.3,344.9 468.8,337 468.5,329.6 467.5,322.7 465.6,316.1 463,310 459.7,304.2 451,293.5 439.2,283.9 424.4,275.5 409.3,269.3 387.6,263 365.7,258.8 339.6,255.7 308.2,254.1 279,254.2 248.5,256.2 222.6,260 203.3,264.9M195.5,267.5 180,274.4 173,278.7 167.3,283.2 162.7,287.8 159.3,292.4 156.7,297.2 154.8,303.8 154.2,308.8 154.8,315.7 156.2,321 159.2,328.2 167.9,341.6 181.1,355.9M451.9,390.5 459.3,375.7 465.3,359.3M462.5,362.4 465.3,347.8 465.8,339.9 465.5,332.6 463.3,321.3 458,309.3 449.8,298.6 438.9,289.1 424.9,280.7 410.7,274.7 390.2,268.5 369.5,264.4 344.8,261.5 314.9,260 286.5,260.2 255.1,261.9 227.5,265.3 207.6,269.6M199.7,271.9 189.8,275.6 181.6,279.4 174.9,283.5 169.5,287.7 165.2,292 161.9,296.4 159.5,301 157.7,307.3 157.2,312.1 157.9,318.8 159.9,325.7 163.2,332.8 172.3,346.1 185.9,360.5M445.6,402.6 455.4,382.6 462.5,362.4M459.7,365.3 462.3,350.7 462.6,337.9 460.8,326.5 456,314.3 448.6,303.6 438.3,294.1 425.2,285.9 411.8,279.9 392.4,273.9 372.9,270 349.6,267.3 327.4,266.1 301.3,266 270.6,267.4 239.2,270.3 216.7,273.8M208.1,275.7 197.3,278.8 188.4,282.2 181.2,285.7 175.2,289.5 170.4,293.4 165.6,298.9 162.4,304.7 160.7,310.7 160.3,317 161.3,323.5 163.6,330.3 167.2,337.4 172.2,344.8 178.5,352.5 193.1,367.2M438.7,415.6 451.4,389.6 455.7,378.6 459.7,365.3M456.7,368.2 458.9,356.3 459.6,345.7 459,336.1 456.4,325.2 453,317.4 447.1,308.5 439.3,300.6 431.7,294.9 420.4,288.5 409.8,284 397.6,280.1 383.6,276.8 367.5,274.3 353.8,272.9 332.9,271.9 314.8,271.9 270.4,274.4 217.2,280.3 205.4,282.7 193,286.4 183.4,290.7 174.5,296.5 168.4,302.9 166,307 164.4,311.2 163.4,318.6 164.9,328.1 169.3,338.2 176.5,349.1 186.8,361 198,371.7M424.8,441 436.6,419.3 445.3,400.9 451.6,385.1 456.7,368.2M453.6,370.9 455.7,359.1 456.4,348.5 455.7,338.9 453.9,330.2 450.9,322.4 445.4,313.4 438.2,305.5 431.1,299.8 420.5,293.5 410.5,289.1 399,285.2 385.7,282.1 370.5,279.7 357.6,278.4 338,277.5 320.9,277.7 286.9,279.8 210.6,288.1 200.8,290.2 190.2,293.6 182,297.6 175.8,302 170.5,308.1 167.1,316.1 166.7,324.8 169.2,334.2 174.4,344.4 182.5,355.4 193.6,367.4 205.5,378.5M397.8,488.4 415.7,457.8 434.1,422.5 445.9,395.6 449.8,384.3 453.6,370.9M450.3,373.5 452.7,359 452.7,344 450,331.1 444.8,320M438.4,311.9 432.1,306 426.6,302 418.1,297.2 410.9,294 400,290.3 390.8,287.9 369.2,284.5 342.5,283 314.7,283.9 287.4,286.4 245,292.5M233.6,292.8 216.4,293.8 200.3,296.5 188.6,300.4 178.8,306.3 172.8,313.1 171.1,316.9 169.9,322.2 170.4,330.8 174.6,341.8M179.8,350.4 187,359.6 194.2,367.6 216.1,387.7M395.8,491.9 416.8,454 433.6,420.2 444.2,394.3 450.3,373.5M446.9,376 449.5,358.9 449.1,344.5 446.1,332.1 440.6,321.4M436.9,316.6 430.9,310.8 425.8,306.9 417.8,302.1 411,298.9 400.7,295.3 392,293 371.7,289.6 346.5,288.3 320.4,289.3 295.2,291.9 256.6,297.6M236.6,299.3 219,299.8 203.1,301.8 191.5,305.2 181.9,310.4 176,316.8 174.3,320.4 173.1,325.4 173.1,329.5 174.1,335.2 178.6,346.1M181.7,351.1 189.9,361.9 199,371.8 212.9,384.9 227.4,397.3M335.2,477.2 361.1,493.9 370.3,498.2M392.1,490.3 397.3,483.2 406.2,469 425.6,432.5 439.4,400.5 443.3,389.3 446.9,376M443.4,378.4 445.8,364.1 446.1,351.7 444.6,340.9 441.3,331.4 436.3,322.9 428.1,314.2 419.3,308 408.6,302.8 395.8,298.6 383.8,296 366.4,294 350,293.4 330.9,294.1 314.4,295.5 259.7,303.4M240.3,305.1 212,306.3 201.1,308 192.8,310.5 185.2,314.5 180.1,319.4 177.3,325 176.4,331.2 177.4,338.1 181,347.1 186,355.2 192.9,364.1 201.8,373.9 212.9,384.6 243.1,410.2M299.9,452.9 326.7,471.5 342,481.2 358.4,489.6 366.6,492.1M387.6,486.2 393.1,480.7 402.3,468.5 410,456.2 419.3,439.2 426.8,424.1 434.3,406.6 439.7,391.6 443.4,378.4M439.7,380.7 442.2,366.6 442.6,354.4 441.2,343.7 438,334.3 433.1,326.1 425.1,317.6 416.5,311.6 406.1,306.6 393.6,302.7 381.9,300.4 364.9,298.7 348.9,298.4 330.3,299.4 314.3,301 262.6,308.7M244.1,310.4 218.6,311.3 204.5,312.8 194.5,315.6 186.3,320.3 183.5,323.1 181.1,327.3 180.1,330.7 179.8,335.6 182.2,345.1 188,356 194.4,364.5 200.9,372 218,388.7 241.6,408.9 273.9,434 306.3,457.3 333.1,474.3 347.9,481.8 355.5,484.5 363,486.1M383.1,481.3 388.6,477.1 398,466.8 405.9,455.8 415.4,439.9 423,425.5 430.6,408.4 436,393.6 439.7,380.7M435.9,382.8 438.2,371.6 439.1,359.2 438.1,348.5 435.4,339 431,330.7 423.6,322.2 415.6,316.2 405.7,311.3 393.9,307.4 382.9,305.1 366.8,303.5 351.8,303.2 334.4,304.1 319.5,305.7 265.3,313.7M247.8,315.4 219,316.4 208.1,317.5 198,319.9 189.8,324.2 187.1,326.8 184.6,330.7 183.6,333.9 183.3,338.6 185.6,347.8 191.3,358.3 203.9,374 223.1,392.8 250.6,415.9 279.9,438.1 306.5,456.6 325.2,468 338.8,474.7 345.8,477.4 352.8,479.4 359.7,480.4M378.7,476.4 384.1,473 393.6,464.4 401.6,454.7 411.3,440.1 418.9,426.4 426.7,410 432.2,395.5 435.9,382.8M432,384.9 434.3,373.9 435.4,361.7 434.5,351.2 431.9,341.9 427.7,333.8 420.5,325.5 412.7,319.8 403.1,315 391.6,311.4 380.8,309.3 368.4,308.1 354.3,307.9 324.1,310.1 268,318.4M251.3,320 211.8,322 201.7,324.1 193.5,327.9 190.7,330.3 188.3,334 187.2,337.1 186.9,341.6 189,350.5 194.6,360.7 206.9,376 225.7,394.4 252.6,416.9 281,438.3 306.7,455.3 324.5,465.3 337.2,470.8 343.7,472.9 356.6,475M374.5,471.5 379.7,468.7 389.2,461.5 397.2,453 407,439.8 414.7,426.9 422.6,411.2 428.2,397.3 432,384.9M428,386.8 430.4,376 431.6,364.2 430.8,353.8 428.4,344.8 424.3,336.9 418.7,330.1 411.4,324.3 402.4,319.6 391.5,316 381.3,313.9 366.5,312.5 352.7,312.5 323.5,315 270.4,322.8M254.7,324.4 213.4,326.6 203.9,328.6 197.3,331.6 194.5,333.9 192,337.3 190.9,340.2 190.5,344.5 192.6,353.1 198,363 210,378 228.4,395.9 254.6,417.8 282.2,438.1 306.8,453.7 323.7,462.3 335.6,466.8 341.7,468.4 353.7,469.9M370.5,466.9 375.6,464.5 384.8,458.4 392.7,451 402.6,439.1 410.4,427.1 418.4,412.3 424.1,398.8 428,386.8M423.9,388.6 426.4,378.1 427.7,366.6 427.1,356.4 424.8,347.6 420.9,339.9 415.4,333.3 408.3,327.8 399.5,323.3 388.9,319.9 379,318 367.7,317 354.7,316.9 327.4,319.1 272.8,327M258,328.5 217.4,330.8 209.5,332.1 202.3,334.7 196.9,338.9 194.5,344.3 194.7,350.8 198,359.6 202.5,366.8 208.6,374.7 224.4,391.2 247.2,411 275.1,432 297.1,446.2 317.5,456.9 334.1,462.8 345.4,464.9 351,465.1M366.8,462.4 376.2,458 384.5,452.1 391.8,445.3 398.1,438.1 406,427.1 414.1,413.1 419.9,400.2 423.9,388.6M419.7,390.2 422.3,380.1 423.7,368.9 423.2,359 421.1,350.4 417.4,343 412,336.6 405.1,331.2 396.6,327 386.3,323.8 376.6,322.1 365.6,321.2 353,321.2 326.6,323.6 275,331M261.1,332.4 221.4,334.7 213.5,335.9 206.3,338.3 201.5,341.5 198.6,346.4 198.3,352.4 200.4,359.5 204,366.2 209.3,373.6 225.3,390.8 246.7,409.5 272.8,429.1 297.8,444.7 317.1,454 332.7,458.9 343.2,460.5 348.4,460.6M363.2,458.2 372.2,454.4 380.3,449.3 387.4,443.3 396.5,433.4 403.8,423.4 409.7,413.6 415.6,401.4 419.7,390.2M415.4,391.8 418.1,382 419.6,371.2 419.5,363.4 417.8,354.8 414.6,347.4 409.8,341 403.4,335.6 395.4,331.3 385.7,328.1 376.6,326.4 366.2,325.5 354.4,325.4 329.8,327.4 277.2,334.8M264,336.1 225.5,338.5 217.6,339.7 210.4,341.8 205.6,344.8 202.6,349.5 202.2,355.2 204.2,362 207.7,368.4 212.8,375.6 228.4,392.3 249.3,410.3 274.5,428.7 294.2,440.7 312,449.2 321.5,452.6 331.3,455.1 346,456.3M359.9,454.1 368.4,450.8 376.1,446.4 383.1,441.1 392,432.3 399.3,423.1 405.2,414 411.2,402.4 415.4,391.8M411,393.2 413.8,383.9 415.5,373.4 415.5,365.9 413.9,357.5 410.8,350.3 406.2,344.2 400,339 392.3,334.9 382.8,331.9 374,330.4 363.9,329.5 352.5,329.6 328.8,331.6 279.2,338.4M266.9,339.7 227.5,342.4 220.2,343.6 214.6,345.2 209.8,348 206.6,352.5 206.1,357 207.6,363.3 210.6,369.4 215.3,376.1 229.7,391.9 249.3,408.9 272.9,426 295,439 311.9,446.5 320.9,449.4 330,451.4 343.6,452.3M356.7,450.3 364.7,447.4 372.1,443.5 378.8,438.9 387.5,431 394.8,422.6 400.7,414.2 406.7,403.3 411,393.2M406.5,394.4 409.4,385.6 411.2,375.5 411.3,368.3 409.9,360.2 407,353.3 402.5,347.3 396.6,342.4 390.7,339.2 381.9,336.2 373.6,334.5 364.2,333.7 353.4,333.5 331.4,335.2 285.2,341.4M265.9,343.4 231.7,345.9 222.9,347.4 217.7,349.1 213.3,351.9 210.6,356.2 210.2,360.6 212,366.9 215.3,372.9 220.1,379.5 233,393.3 252,409.5 271.6,423.4 292.1,435.4 307.7,442.3 324.5,447.1 337.2,448.4M357.5,445.4 364.8,442.5 371.5,438.7 377.6,434.3 385.6,427 392.3,419.4 397.8,411.6 402.2,404 406.5,394.4M401.9,395.6 404.9,387.2 406.8,377.5 407,370.6 405.8,362.9 403,356.2 398.8,350.5 393,345.8 387.3,342.7 378.8,339.9 370.8,338.4 351.3,337.5 330.2,339.1 286.8,344.8M268.7,346.7 236,349.3 227.3,350.7 222.1,352.3 217.6,354.9 214.8,359.1 214.4,363.3 216.1,369.3 222.8,380.1 234.8,393 252.4,408.2 270.6,421 286.3,430.2 304.1,438.4 319.6,443 327.5,444.3 335.4,444.8M354.3,442 361.2,439.4 367.6,436.1 373.5,432.3 381.2,425.7 387.8,418.8 393.2,411.6 397.5,404.6 401.9,395.6M397.3,396.6 400.3,388.7 402.3,379.5 402.6,372.9 401.6,365.5 399,359.1 394.9,353.6 389.4,349.1 383.9,346.3 377.4,344 370,342.4 351.8,341.3 329.1,342.9 288.3,348.1M271.5,349.9 238.3,352.8 230.2,354.3 225.5,355.9 221.4,358.5 219.2,361.9 218.7,365.9 220.3,371.6 226.7,381.9 238.3,394.3 255.3,408.6 272.8,420.5 287.7,428.8 304.5,435.9 319,439.8 333.7,441.2M351.3,438.7 363.8,433.6 369.4,430.1 376.9,424.3 383.2,418 388.5,411.5 392.9,405 397.3,396.6M392.6,397.5 395.6,390 397.7,381.4 398.1,375.1 397.2,368.1 395.4,363.1 391.8,357.7 386.8,353.2 381.7,350.4 374.1,347.6 367,346.1 349.5,345.1 328,346.6 289.9,351.2M274.2,352.9 242.6,355.9 234.7,357.4 230,358.9 226,361.5 223.7,364.6 223.2,368.5 224.6,373.9 227.4,379.1 231.7,384.9 243.4,396.9 258.3,408.9 275,419.8 289.2,427.3 304.9,433.5 318.4,436.8 332,437.9M348.4,435.6 354.4,433.6 362.8,429.6 374.7,421 380.5,415.2 385.4,409.3 392.6,397.5M387.7,398.2 390.8,391.3 393,383.2 393.5,377.3 392.7,370.6 391,365.9 387.6,360.7 382.9,356.5 378,353.8 370.7,351.2 363.9,349.8 347.2,348.8 326.8,350.1 291.3,354.3M276.7,355.8 246.9,358.9 234.7,361.9 230.6,364.3 228.4,367.3 227.7,370.9 229,376.1 234.9,385.4 245.6,396.5 259.3,407.6 274.8,417.6 290.6,425.7 305.3,431 317.8,433.8 330.4,434.6M345.6,432.5 351.2,430.7 359.1,427.2 370.4,419.6 380.7,409.1 387.7,398.2M382.9,398.9 385.9,392.5 388.1,384.9 388.7,379.3 388.1,373 386.5,368.6 383.4,363.7 378.8,359.7 374.2,357.1 362.4,353.7 347.1,352.5 328.3,353.3 295.6,356.9M276.7,359 251.1,361.8 243.8,363.3 238.4,365.2 234.8,367.6 232.9,370.6 232.5,374.1 234,379.2 240.1,388.2 249.4,397.5 260.6,406.4 274.8,415.6 286.8,421.7 300.1,426.9 314.3,430.4 326,431.4M345.5,428.8 355.4,424.9 366.1,418.2 376,408.7 382.9,398.9M377.9,399.3 380.9,393.5 382.9,387.9 383.8,382.6 383.6,376.5 382.4,372.2 379.7,367.5 375.6,363.6 371.5,361 360.7,357.5 344.6,356 327,356.7 296.7,359.8M279.3,361.7 255.4,364.6 248.4,366.1 243.2,367.9 239.7,370.2 237.5,373.7 237.4,377.2 239,382 244.4,389.6 253.3,398.3 263.9,406.5 277.3,414.8 288.5,420.2 300.9,424.7 314,427.6 324.7,428.4M342.7,426 354,421.5 363.6,415.4 371.3,408.3 377.9,399.3M373,399.7 375.9,394.4 377.8,389.2 378.7,384.4 378.6,378.8 377.6,374.7 375.1,370.3 371.3,366.7 367.4,364.3 357.2,360.9 342.1,359.5 325.7,360 297.9,362.7M281.9,364.4 258.3,367.6 251.9,369.1 247.3,371 244.1,373.3 242.5,376.1 242.3,379.4 243.8,383.9 248.8,391 257.2,399 267.3,406.5 279.9,413.8 290.3,418.6 301.7,422.4 313.7,424.8 323.5,425.4M339.9,423.3 350.4,419.4 359.3,414 366.6,407.7 373,399.7M367.9,399.9 372.6,390.5 373.6,386 373.6,380.9 372.6,377.2 370.3,373.1 366.8,369.7 363.2,367.4 353.7,364.3 339.6,362.8 322.4,363.3 299,365.5M284.5,367.1 262.6,370.2 252.2,373.5 249.2,375.7 247.6,378.4 247.3,381.4 248.7,385.7 253.4,392.2 260.1,398.6 269.2,405.3 280.6,411.9 292,416.9 302.5,420.1 313.4,422.1 322.3,422.5M337.2,420.6 346.8,417.2 355,412.6 361.8,407.1 367.9,399.9M362.8,400 367.3,391.6 368.3,387.6 368.4,382.9 367.6,379.5 365.5,375.7 363,373.2 358.9,370.5 350,367.6 338.6,366.2 323.1,366.3 302,368M285.2,369.9 267,372.7 260.5,374.5 256.6,376.3 254,378.5 252.6,381.6 252.7,384.6 254.6,388.7 258.9,394.1 265.4,400 274.2,405.9 283.3,410.8 291.9,414.5 301.3,417.3 311.1,419.2 319.1,419.7M336.4,417.5 343.3,415.1 350.8,411.1 357.1,406.3 362.8,400M357.7,400 362,392.5 362.9,389 363.1,384.8 360.9,378.9 358.8,376.5 355.3,373.9 347.5,371 335.9,369.4 321.9,369.3 302.9,370.7M287.8,372.4 271.3,375.1 261.7,378.6 259.3,380.7 257.9,383.6 258,386.4 259.7,390.1 263.6,395 269.7,400.2 276.4,404.7 284.5,409 293.8,412.7 302.2,415.1 311.1,416.6 318.2,417M333.6,415 341.3,412.3 347.9,408.7 353.4,404.5 357.7,400M352.5,399.8 356.5,393.3 357.4,390.2 357.6,386.5 355.7,381.3 350.6,376.8 343.6,374.1 333.1,372.5 320.6,372.3 305.3,373.2M289,375.1 274.7,377.8 266.4,381.2 264.4,383.2 263.3,385.9 263.6,388.5 265.3,391.9 269.2,396.3 274,400.2 280.1,404.1 287.4,407.8 301.6,412.5 315.7,414.3M332.3,412.2 337.7,410.3 343.6,407.3 348.6,403.7 352.5,399.8M347.3,399.5 350.9,394 352,388.1 350.4,383.5 345.9,379.5 339.6,377 330.4,375.5 319.3,375.2 306,375.9M291.8,377.5 279.2,380 271.8,383.2 269.9,385.1 268.9,387.6 269.1,389.9 270.7,392.9 277.6,399.6 289.1,406 301.5,410 315,411.6M329.5,409.8 339.4,405.7 343.8,402.8 347.3,399.5M342.1,399 345.3,394.5 346.3,389.5 345,385.6 341,382.1 335.6,379.9 328.5,378.5 319.2,378 307.8,378.4M293.5,380 282.9,382.4 276.8,385.5 275.3,387.2 274.6,389 274.8,391.1 276.1,393.7 282.1,399.3 291.2,404.2 301.6,407.6 313.2,409M327.7,407.2 336,403.7 342.1,399M336.9,398.5 339.6,394.8 340.5,391.2 339.7,387.9 336.6,384.8 332.2,382.8 326.4,381.5 310.1,380.9M294.7,382.7 286.9,384.7 282.3,387.2 280.4,390.3 281.7,394.3 286.2,398.6 293.6,402.5 302.2,405.2 310.8,406.3M326.5,404.4 332.4,401.8 336.9,398.5M331.6,397.8 333.9,395 334.6,392.1 334,389.5 331.8,387.2 328.4,385.5 323.9,384.3 311,383.5M297.2,385.1 291.1,386.9 287.6,389.1 286.3,391.7 287.3,394.7 291,398 296.3,400.8 303.1,402.9 309.9,403.8M323.9,402.1 328,400.3 331.6,397.8M326.3,397 327.9,395.2 328.7,393.1 328.3,391.1 326.8,389.4 321,386.9 312.6,386.1M299.1,387.6 295.3,389.1 293.1,390.7 292.3,392.5 293,394.8 295.5,397.1 298.9,398.9 308.3,401.2M321.9,399.5 326.3,397M478.3,339 470.2,352.9 465.3,359.3 456.7,368.2 443.4,378.4 435.9,382.8 423.9,388.6 406.5,394.4 397.3,396.6 382.9,398.9 373,399.7 357.7,400 331.6,397.8M481.4,332.6 473.5,346.6 468.7,353.2 460.4,362.2 447.5,373 436.6,379.9 428.8,384M484.5,326.3 478.9,337 469.5,350.2 458,362.1 444.6,372.4 429.4,381.3 416.9,386.8 399,392.6 384.5,395.6M485.9,323.7 477.6,337.7 472.7,344.2 464.5,353.4 455.3,361.9 448.6,367.1 430,378.6M488.9,317.5 480.7,331.7 467.9,347.6 452.4,361.7 434.3,373.9 413.8,383.9 395.6,390 375.9,394.4 354.9,396.6M491.9,311.4 488.1,318.7 481.4,329 468.3,344.9 459.2,353.5 449.3,361.6 430.8,373.5M496.7,301.4 488.9,316.1 479.5,329.7 468.5,342.2 452.9,356.3 438.8,366.4 423.1,375.5 405.9,383.2 387,389.4M499.7,295.1 494,306.5 487.3,317.1 479.8,327.1 471.6,336.5 462.7,345.4 453,353.7 442.6,361.5 431.3,368.7M502.7,288.8 496.9,300.3 490.2,311.2 482.7,321.3 474.6,330.9 465.8,339.9 456.4,348.5 446.2,356.5 435.3,364 423.6,371 411,377.4 387.8,386.4 372.6,390.5 362,392.5 345.3,394.5 333.9,395M505.7,282.4 499.8,294.2 493,305.2 485.6,315.5 474.7,328.4 462.7,340.3 453,348.7 442.7,356.7 431.6,364.2M508.8,275.9 500.5,291.8 488.3,309.7 474.6,325.9 459.4,340.8 442.6,354.4 423.8,366.8 406.9,375.8 388.4,383.5M511.9,269.3 505.7,281.6 498.6,293.1 491,303.9 480.2,317.2 468.5,329.6 456,341.2 442.5,352.1 431.5,359.9M517.1,258 510.9,271.1 503.9,283.1 488.3,304.9 471.3,324.2 459,336.1 449.1,344.5 427.5,360.3 415.6,367.7 402.6,374.5 378.7,384.4 357.4,390.2M520.4,250.9 513.9,264.4 506.7,276.8 496.3,292 485.4,305.9 473.9,318.8 458.6,333.8 445.4,345.1 431.1,355.8M523.8,243.5 514.6,261.9 501.6,282.2 485,303.6 467.5,322.7 448.4,340.2 430.8,353.8 411.1,366.6 388.7,378M527.3,235.8 520.1,250.4 509.7,267.9 498.7,283.6 487.5,297.9 475.9,311.1 460.8,326.5 444.6,340.9 430.5,351.9M533.3,222.4 526,238.1 517.9,252.5 509.6,265.5 498.3,281.3 486.9,295.6 472.3,312.1 457.1,327.3 444.1,338.9 430.1,350 414.7,360.7 402.2,368.4 388.5,375.5 373.7,381.9 363.1,385.6 346.4,390 334.6,392.1M537.2,213.7 529.4,230.3 518,249.9 506.5,267.2 492,286.3 477.5,303.4 462.6,319.2 446.8,334.1 429.6,348.2M541.3,204.6 529.9,227.5 514.9,252 494.2,280.4 473.8,304.5 452.5,326.2 432.6,343.6 409.9,360.2 388.1,373M545.6,194.8 536.5,213.5 523.8,235.2 511.4,254 496.3,274.4 481.7,292.4 464,312 445.3,330.2 428.4,344.8M550.1,184.5 543.6,198 533.4,216.4 523.4,232.6 510.6,251.6 486.5,283.2 471.9,300.3 460,313.1 434.6,337.3 420.5,348.9 408.9,357.3 396.4,365.5 382.7,373.3 367.8,380.3 357.2,384.4M554.8,173.4 544,194.8 529.6,219.3 512.8,244.6 497.3,265.9 479.6,288.1 462,308 443.6,326.6 427,341.5M555.9,169.6 539.9,198.3 518.3,232.5 496.1,263.7 472.6,292.9 452,315.6 429.6,336.9 407.7,354.6 386.5,368.6M556.1,165.9 539,195.4 523.9,219.5 507.1,244.4 491.7,265.4 477.1,284 459.7,304.2 441.7,323.1 425.3,338.4M560.1,153.9 533.6,199.2 518.8,222.4 502.3,246.5 475.7,281.9 461.4,299 446.7,315.1M440.6,321.4 427.7,333.8 413.7,346 398.3,357.9 385.4,366.5 371.4,374.6 361.4,379.6 345.3,386.1 334,389.5M558.3,150.8 527.8,202.8 500.6,244.2 474.2,279.9 460,297.1 445.4,313.4M436.3,322.9 423.3,335.4M555.1,148.3 529.2,194 514.7,217.5 498.6,242 472.6,277.9 458.5,295.3 444.1,311.8M435.1,321.4 422.3,334 408.2,346.5 396.7,355.7 384.1,364.6M550.6,146.4 538,170.8 526.3,191.6 499.5,235.1 484.8,256.8 470.8,275.9 457,293.5 442.8,310.2M436.9,316.6 421.1,332.7M541.5,153.2 523,189.3 500.2,228.1 474.5,266.5 449.8,298.6 426.3,324.9 402.5,347.3 390.9,356.7 378.2,365.9 364.3,374.4 354.4,379.6M532.7,159.4 522.7,180.7 509.7,205.1 494.6,230.7 480.6,252.6 467.1,272.1 451,293.5 434,313.7 418.7,330.1M527.1,158 515.3,185.1 497.6,218.8 478.3,250.6 459.8,277.6 441,302.1 420.5,325.5 400.3,345.2 380.8,361.2M472,106 489.1,106 497.4,106.6 505.2,107.9 512.1,110.1 517.8,113.3M518.8,163.7 510.9,183.2 499.9,206.3 489,226.4 475.8,248.6 463,268.3 447.4,290.2 430.9,310.8 415.9,327.6M451.2,107.1 475,106.6 490.3,107.9 497.4,109.5 503.6,111.9 508.9,115.1 512.9,119.2M513,162.5 508.7,175.3 501.3,193.2 491,214.6 480.8,233.6 470.8,250.7 458.2,270.3 445.5,288.6 432.1,306 420.6,319.7 408.1,333.2 394.3,346.6 382.9,356.5 370.4,366 356.8,374.9 342.1,382.8 331.8,387.2M461.9,107.1 476.5,108.2 489.7,111.1 495.4,113.5 500.3,116.7 504.2,120.7M505.3,167.7 499.2,185.7 489.9,207.5 480.2,227 468.1,248.8 456,268.5 440.9,290.6 427.6,308.1 413,325.4M429.2,108.4 442.9,107.8 456.7,107.9 470.1,109.4 476.4,110.7 487.6,115.1 492.1,118.3 495.8,122.1 498.7,126.5M499.5,166.5 492.4,189.6 481.5,215.5 467.7,242.7 451.2,270.6 433.8,296.2 414.4,320.8 395.2,341.6 376.6,358.4M451.5,108.8 463.9,110.6 469.7,112.1 479.9,116.6 484.2,119.7 487.8,123.4 490.6,127.6 492.8,132.2M492.3,171.2 487.6,187.9 479.8,208.7 471.4,227.6 460.3,249.1 448.8,268.9 436.8,287.6 423.9,305.6 409.7,323.3M409.9,109.7 428.1,108.8 440.3,109.2 452.1,110.6 463,113.4 472.6,118 476.6,121.1 480,124.6 485,133M485.4,175.6 482.7,186.4 477.6,201.9 465.9,230.2 457.4,247.3 448.6,263.4 429.7,293.5 410.9,318.7 398.8,332.9 388.8,343.4 370.3,360.5 357.9,370 349.1,376M441,110.7 451.6,113 456.6,114.7 465.4,119.4 472.5,125.7 475.3,129.5 479.2,138.2M478.8,179.6 474.8,195.1 468,214.6 460.5,232.7 452.3,249.6 441.5,269.5 429.9,288.5 417.3,306.9 406.2,321.4M398.2,110.4 414.5,109.8 430.6,110.9 440.8,112.8 450.3,116 458.5,120.6 465.2,126.8 470.2,134.4 473.4,143.2M473.3,178.4 468.6,198.5 460.6,222 449.3,247.9 436.7,271.9 422.8,294.7 407.1,316.8 389.1,338.5 371.6,356.1M430.6,112.7 444.1,117.2 451.8,121.8 455.2,124.6 458.2,127.8 463.1,135.1 464.9,139.2 467.5,148M467,182.2 463.9,196.9 458.3,215.7 451.7,233.5 444.2,250.3 436.2,266.5 425.2,285.9 413.1,304.7 402.4,319.6M387.4,111.2 402.1,110.8 416.4,111.9 429.9,114.9 438.1,118.3 445.3,122.9 448.5,125.7 453.9,132.1 458,139.7 461.6,152.5M460.9,185.8 458,200.1 454.2,213.9 449.7,227.3 442.9,244.5 429.2,272.9 420.4,288.5 410.9,303.7 391.7,329.9 372.3,351.6 361.4,361.9 349.6,371.6 337.1,380.3 328.4,385.5M420.5,114.6 428.5,117.6 435.7,121.6 444.7,129.7 451.2,140.1 454,148.1 455.8,156.8M454.9,189.2 452.2,203.1 448.6,216.8 442.8,234.3 436,251.2 428.5,267.5 417.9,287.3 408.6,302.8 398.3,318M377.4,111.9 394.9,111.8 407.5,113.5 419.3,117 429.7,122.6 438.2,130.5 442.7,137 447.5,148.3 450,160.8M449.7,187.9 446.6,206.2 440.5,228.3 432.7,249.6 421.6,274.2 408.6,297.9 396.1,317.3 381.9,336.2 365.7,354.3M410.6,116.5 417.5,119.6 423.8,123.6 429.4,128.6 434.2,134.4 438.1,141 441,148.4 443.1,156.3 444.4,164.7M444,191.2 441.9,204.6 437.8,222.3 433.8,235.4 427.7,252.3 420.6,268.9 412.6,285.1 403.7,301 393.8,316.6M368.2,112.6 383.9,112.6 395.2,114.2 402.3,116.2 409.1,118.9 418.1,124.6 425.8,132.2 431.7,141.5 435.9,152.3 438.8,168.4M438.3,194.4 434.6,216.4 427.3,242.4 417.5,267.6 405.6,292.1 391.5,316 374.9,339 359.1,357.2 341.5,373.6M401,118.3 409.8,123.4 415.1,127.8 419.7,132.9 423.7,138.7 427,145.2 429.6,152.3 431.6,159.9 433.2,171.9M432.7,197.4 430.9,210.5 427.2,227.9 423.5,240.8 417.6,257.9 404.9,287.1 389.1,315.4M363.2,113.1 377.2,113.6 390.3,116.6 396.3,119.2 401.9,122.4 409.5,128.6 415.8,136.4 422.2,148.9 425.5,159.6 427.7,175.3M427.3,200.4 424.8,217.7 419.6,239.4 412.6,260.8 403.9,282 393.6,302.7 384.1,318.9 370.8,338.4 358.9,353.2M391.6,120 399.3,125.2 403.9,129.4 408.1,134.3 413.3,142.8 416.2,149.1 419.4,159.4 421,166.8 422.3,178.5M421.8,203.4 417.7,229.3 414.5,242.3 409.1,259.6 404.4,272.5 397,289.5 384,314.4M351.7,113.9 361.4,113.6 367.5,114.2 379.1,117.1 389.5,122.4 398.5,130.2 405.9,140.3 411.4,152.5 415.1,166.4 416.9,181.7M416.8,202.1 413.4,227.8 406.9,254 397.6,280.1 385.8,305.6 371.6,330.1 358.1,349.2 349.3,359.8 340,369.7 323.9,384.3M382.5,121.6 389.2,126.8 393.2,130.9 398.5,138.1 403,146.5 408.4,162.5 410.4,173.3 411.5,184.8M411.4,205.1 408.1,230.8 401.8,257.2 397.5,270.4 390.8,287.9 378.6,313.5M353.1,114.2 363.8,115.7 373.6,119.6 382.3,125.7 386.2,129.5 391.4,136.2 397.2,146.8 401.6,159 404.6,172.8 406.3,191.7M406,208 404.3,225.1 401.2,242.7 396.7,260.5 389.2,282.8 379.9,304.7 371.3,321.5 361.7,337.6 351.3,352.6M373.7,123.1 379.4,128.3 384.5,134.5 388.9,141.8 392.7,149.9 396.7,162.2 398.9,172.3 400.3,183.2 401,194.7M400.7,211 397.7,237 391.5,264 384.1,286.6 372.8,312.9M340.6,114.8 350.4,115.1 355,116.1 361.5,118.6 365.5,121 371.1,125.5 379.3,135.1 385.9,147.4 390.9,162 394.2,178.8 395.6,197.7M395.4,214 393.1,235.7 388.7,258.4 383.6,276.8 375.4,299.5 367.7,317 356.7,337.4 344.6,356 331.8,372.4M365,124.5 369.9,129.7 375.6,138 379.2,145.2 383.4,156 386.7,168.2 388.5,178.3 390.3,200.6M390,217 387.2,243.6 382.4,266.8 375.4,290 366.5,312.5M342.8,115.4 350.6,117.8 359.2,123.7 366.6,132.3 372.8,143.1 377.8,156.1 381.6,171.2 384.1,188.3 384.9,203.6M384.7,220.2 383.2,237.9 380.2,256.5 375.9,275.5 371.7,289.6 366.8,303.5 359.5,321.1 351.3,337.5 342.7,352.5M356.6,125.9 360.6,131 365.4,139 369.5,148.4 373,159 377.5,180.7 379.5,206.6M379.3,223.4 377.2,246.1 372.9,270 367.9,289.2 359.9,312.4M330.6,115.7 334.2,115.6 339.4,116.6 347,121 353.7,128.1 360.4,139.6 365.9,153.7 370.1,170.7 373,190.6 374.1,209.7M373.9,226.7 371.8,249.9 368.6,269.4 363.9,288.9 358,307.8 349.4,329.7 340,349.1 330.3,366.1 318.5,383.6M348.3,127.1 352.6,134.1 356.4,142.2 362.6,161.9 366.9,186.5 368.6,212.8M368.6,225.7 366.9,249 364.1,268.8 359.8,288.7 352.7,312.5M332.5,116.8 338.8,120.9 344.3,127.7 348.9,136.5 353.7,149.4 357.6,164.6 360.2,179.4 362.2,196.5 363.1,216.1M363,229.2 361.9,248.1 360.2,263.1 354.3,293.5 346,321.6 339.8,338.2 333.3,353M340.2,128.3 343.5,135.2 347.2,145.3 352.6,167.4 356,192.3 357.5,219.5M357.4,232.9 356.3,252.3 353.8,272.9 350,293.4 345.1,312.8M323.1,116.3 325.3,116.6 328.4,118.1 333,123.1 337.7,132.1 342.3,145.7 346,162.1 349.1,182 351,202.6 351.8,223M351.7,236.8 350.6,256.8 348.9,272.5 343.4,303.5 338.6,322.2 333.5,338.8 320.6,372.3M332.3,129.4 337.4,146.1 341.8,170.1 344.8,198.3 346,226.7M345.9,240.9 344.8,261.5 343.2,277.7 340.8,293.6 336.9,313.5M322.3,118.1 325.6,122.8 328.9,131.5 331.7,142.4 334.5,157.6 338.6,194.4 340.1,230.5M340,240.2 338.9,266.5 336,293.8 330.7,323.1 323.1,353.8M324.5,130.4 328,149 331.2,175.7 333.2,204.7 334,234.6M334,244.6 332.5,277.5 328.1,314.4M315,117 315.9,117.2 317.2,118.7 319.4,125 321.5,135.9 323.4,151.5 326.6,193.8 327.8,239M327.8,249.4 326.9,277.6 324.1,310.1 319.5,344 312.5,383.4M316.8,131.4 319.7,173.1 321.4,228.8 321.1,271.8 318.8,315.6M312.1,119.3 314,165.7 314.9,248.7 314.3,301 312.3,355M309.2,132.3 308.2,237.8 308.8,317.1M308.2,117.7 307.1,119.9 305.9,128.1 303.9,157.3 302,207.1 301.2,254 302.5,302.6 308.4,373M301.7,133.1 299.3,153.4 297,181.8 294.1,248.2 294.7,285.6 298.2,318.7M302.2,120.4 299.5,127.4 297.3,136.9 292.7,169.3 288.3,218.9 286.5,260.2 286.9,279.8 288.9,298.8 292.7,319.6 301.2,356.3M294.4,133.9 289.5,156.3 284.9,188 280.8,227.8 278.8,260.4 278.7,273.7 279.6,287.4 281.8,299.9 287.2,320.5M301.4,118.3 299.7,118.9 297.2,121 292.4,129.6 288.1,143 283.4,163.2 278.6,191.2 274.4,223.6 271.3,254.5 270.4,274.4 271.5,288.5 274.5,301.1 283.2,325.6 299,365.5M287,134.7 280,157.2 272.7,191.7 265.6,238.1 261.9,275.2 261.9,282.6 262.9,289.7 264.8,296.3 276,322.1M292.4,121.4 289.4,124.7 285.8,130.3 279.1,145.7M277.8,149.5 270.5,175.8 263.6,208.5 256,255.5 252.8,283.7 253.9,291.2 256.6,297.6 279.2,338.4M279.8,135.4 275.7,144.2M273.5,149.9 268.6,164.5 263.8,181.4 255,220.8 244,284.8 245,292.5M294.8,118.9 288.9,121 282.6,126.6 277.2,134.1 271.7,144.6M269.1,150.4 259.9,176.8 251.1,209.8 241.4,257 238.1,277.6 237.4,285.3M272.6,136.1 266.7,146.9M264.8,150.8 254.6,177.4 245,210.5 235.8,251.9 232,278.3 232,285.7 233.6,292.8 236.6,299.3 244.1,310.4 254.7,324.4M282.8,122.3 278.2,125.8 274.1,130 265.7,141.7 257.6,157.3 249.3,178 240.9,204.3 232.7,236.9 228.5,258.9 226.6,278.9 227.1,286 228.8,292.9 231.6,299.4 235.2,305.2 250,324.7 276.7,355.8M265.5,136.7 258.4,147.7 252,159.9 245.1,176.2 239.2,192.5 233,212.4 227.7,233.2 223.5,254.1 221.9,266.3 221.7,279.6 222.6,286.5 224.4,293.1 230.5,305.3 237.9,315.8 245.4,324.9M288.3,119.5 284,120.3 278.1,122.7 272.7,126.2 266.3,132 260.6,138.7 255.5,146.1 244.2,167.2 233.7,193.3 223.9,225.4 220.7,239.2 217.9,255.2 216.7,273.8 218.3,287 220.3,293.4 222.9,299.6 229.8,310.9 237.4,320.7 252.1,337 287.8,372.4M258.5,137.3 250.2,148.5 241.7,163.2 233.7,180.1 227.1,197.3 220.4,218.4 216.1,235.7 213.4,250.9 212,268.4M213,281.1 214.3,287.5 219,299.8 225.8,311 237.2,325.2M273.5,123.1 267.3,126.6 261.7,130.9 251.8,141.2 240.8,157.1 231,175.7 221.7,198.3 213.8,223.7 209,247 207.6,263.6 208.1,275.7 210.6,288.1 212.7,294.2 218.6,305.8 225.8,316.1 237.4,329.6 252.4,344.4 269.3,359.7M251.4,137.8 242,149.2 233.7,162 224.7,179.1 217.5,196.2 210.6,217 206.5,233.8 204.1,248.4 203.3,264.9M204.3,276.7 207.1,288.8 212,300.5 218.6,311.3 230,325.5M282.2,120.1 274,121.6 266.5,124.5 259.7,128.3 253.6,132.9 246.1,139.9 239.5,147.6 227.7,164.9 221,177.2 215.9,188.2 211.1,200.5 206.4,214.5 203.3,226.5 200.7,240 199.5,249.9 199,260.6M199.7,271.9 202,283.6 206.1,295.2 212,306.3 222.9,321.1 234.7,333.8 246.4,344.8 264.8,360.2 285,375.7M244.4,138.3 235.5,147.9 227.5,158.6 220.2,170.4 213.4,183.5 207.1,198.5 202.4,212.2 198.3,228 196,241.5 195.1,251.4 195.1,262 196.2,273.1 198.8,284.5 203.1,295.8 209,306.6 216,316.6 223.7,325.7M264.4,123.7 256.6,127.3 249.5,131.7 237,142.3 224.7,156.8 212.6,176.2 203.2,196.4 196.3,217.4 192.1,238.4 191.1,258.1M192,268.8 194.2,279.9 197.9,291 203.1,301.8 209.6,312.1 217,321.5 228.9,334.1 244.9,348.5 260.5,360.6M237.4,138.7 227.5,148.6 217,161.9 207.8,177.1 200.8,191.4 194.6,207.8 190.5,222.9 187.8,240.1 187.2,254.6M187.9,264.9 191.2,281 197.6,297.2 207,312.4 218.2,326.1M272.9,121.1 266.3,122.2 257.1,125.1 248.7,128.9 241,133.6 234,138.9 225.5,146.8 217.8,155.5 210.9,164.9 204.5,175.2 198.6,186.4 193.3,198.9 189.8,209.2 185.2,228.6 183.6,241.8 183.4,251.3M184,261.2 186.9,276.8 192.6,292.7 201.1,308 208.1,317.5 215.7,326.4 232,342 248.4,355.2 272.3,371.7 295.3,385.5M230.5,139.1 219.5,149.2 209.9,160.6 201.3,173.3 193.8,187.5 187.3,203.6 183.1,218.2 180.3,234.6 179.7,248.2M180.2,257.8 181.6,267.8 184.1,278.1 190.2,293.6 198.9,308.6 205.8,317.9 213.4,326.6M255.7,124.2 249.3,126.5 240.3,130.6 232.1,135.6 224.6,141.2 211.3,154 200,168.8 190.4,185.6 182.5,205 177.9,223.8 176.4,236.4 176.1,245.3 177,259.5 180,274.4 185.6,289.6 193.5,304.4 203.6,318.3 219.2,335 236,349.3 252.9,361.6M223.5,139.4 213.7,147.7 203,159.2 193.6,172.2 185.6,186.7 179,203 175.1,217.6 172.8,233.8 172.6,247.1M173.3,256.4 174.9,266 177.5,275.8 181.2,285.7 185.8,295.6 194.7,309.8 201.6,318.8 209.2,327.3M266.8,121.7 259,122.8 248,125.5 237.8,129.3 228.5,134.1 220,139.6 212.3,145.7 205.1,152.4 196.6,162.2 189,173 183.9,181.7 179.5,191 175.6,201 172.5,211.7 170.2,223.3 169.1,235.7 169,244.4M169.7,253.5 171.2,262.9 173.6,272.4 179,287 186.6,301.3 192.8,310.5 199.8,319.3 215.3,335.6 232.2,349.8 253.9,364.9 275.7,377.5M216.6,139.7 205.9,148.2 194.2,160.2 184.3,173.8 177.7,185.8 172.2,199 168.1,213.4 165.8,229.2 165.5,241.9M166.2,250.8 168.6,264.6 171.3,274 174.9,283.5 179.4,292.9 184.8,302.2 191.1,311.2 205.5,328.2M247.5,124.7 239.8,126.8 229.1,131 213.1,139.8 199.3,150.7 192.1,158.1 185.5,166 179.7,174.6 174.6,183.7 167.7,200.4 163.3,218.9 162.1,231 162.1,239.5M162.7,248.2 166.2,266.3 170.9,280.2 177.7,294.1 186.2,307.6 196.4,320.5 211.8,336.3 228.8,350.4 246.5,362.6M209.6,139.9 197.9,148.6 187.7,158.5 178.9,169.5 171.6,181.6 165.6,194.8 161.4,209.2 159,224.7 158.7,237.1M159.3,245.7 161.5,259 163.9,268 169,281.7 173.5,290.8 184.7,308.5 191.3,317 202.3,329.2M256.7,122.7 247.8,124 235.2,127 227.3,129.6 216.3,134.3 199.8,144.3 191.2,151.3 183.4,159 176.5,167.3 170.4,176.3 162.4,192.7 158.9,203.4 156.5,214.7 155.3,226.6 155.3,234.9M155.9,243.4 158,256.4 160.3,265.3 165.3,278.7 169.5,287.7 180.1,305.2 186.5,313.7 197.1,325.8 204.8,333.5 217.2,344.4 239.2,360.4 262.5,373.9 276.7,380.8 291.1,386.9M202.6,140.1 193,146.7 181.6,156.7 171.9,168 164,180.5 157.9,194.1 154.7,205 152.2,220.5 151.9,232.7M152.5,241.1 154.6,254 158.2,267.1 163.5,280.3 167.9,289.1 173,297.7 181.9,310.4 188.6,318.6 199.6,330.3M239.7,125.1 222.2,129.6 214.1,132.7 202.7,138.1 195.6,142.3 185.9,149.2 180,154.3 172,162.7 165.2,171.7 161.2,178.2 156.2,188.3 153.5,195.5 150.5,206.7 149.3,214.4 148.5,230.5M149.1,238.9 152.2,255.9 158,273.3 166.5,290.5 177.6,307.3 190.9,323.4 206.3,338.3 223.3,351.9 241.4,364M195.6,140.2 185.1,146.9 172.9,157.4 165.1,166.2 156.6,179.1 150.3,193.2 147.2,204.5 145.5,216.2 145.1,228.4M145.7,236.7 147.8,249.4 151.3,262.2 156.3,275 162.7,287.8 167.8,296.1 176.4,308.4 186.3,320.3 197.3,331.6M246,123.9 226.5,127.2 217.2,129.7 204.1,134.4 196,138.1 184.7,144.6 177.8,149.6 168.5,157.7 158.1,170 153.8,176.7 148.6,187.2 146,194.6 143.2,206.1 142.1,214.1 141.8,226.3M142.4,234.6 143.6,243 146.6,255.7 149.4,264.1 154.8,276.8 159.1,285.2 166.6,297.5 181.9,317.4 200.1,335.9 221,352.8 244.1,367.5 268.8,379.8M188.6,140.2 177.2,147.1 167.1,155.2 158.4,164.2 151.2,174.1 145.6,184.8 141.6,196.1 139.2,207.9 138.4,224.2M139,232.5 141.1,245.1 144.6,257.7 149.4,270.3 155.6,282.7 162.9,294.9 174.4,310.7 184.4,322.1 195.3,333.1M232.6,125.5 217.3,128.4 207.5,131.1 189.3,138.1 173.1,147.2 166,152.6 159.5,158.4 153.8,164.7 148.8,171.4 144.6,178.5 141.1,185.9 138.4,193.6 136.5,201.5 135.3,209.6 135,222M135.6,230.4 138.7,247.2 141.2,255.6 146.1,268.1 154.4,284.4 167.5,304.2 183.5,323.1 198.3,337.4 219.2,353.8 237.6,365.6M181.5,140.1 169.1,147.2 158.2,155.7 152,161.9 144.1,172.1 138.1,183.3 134.1,195 131.9,207.3 131.5,219.8M132.2,228.3 134.3,240.9 137.9,253.5 142.7,265.9 150.9,282.2 158.3,294 169.7,309.4 182.8,324.1 193.7,334.7M235,125.1 218.4,127.5 207.7,129.7 187.4,136 178,140 169.2,144.7 161.1,150 153.8,155.9 147.3,162.3 141.8,169.3 137.2,176.6 133.6,184.4 130.9,192.4 129.1,200.7 128.2,209.1 128.1,217.6M128.7,226.1 130.9,238.9 134.6,251.5 139.4,263.9 145.4,276 152.3,287.9 160.2,299.4 172.1,314.3 182.2,325.1 193.1,335.5 204.9,345.5 217.6,354.9 231.3,363.8 245.8,371.8 261.1,379 277.2,385.2 288.1,388.6M174.4,140 160.9,147.3 152.9,153 145.8,159.3 137,169.9 132.5,177.5 127.6,189.7 125.1,202.3 124.5,215.3M125.2,223.9 127.5,236.8 132.7,253.6 138,266 146.6,281.9 156.7,297.2 168.4,312 181.6,326.2 192.5,336.4M226.4,126.1 203.2,129.7 181.1,135.8 170.8,139.9 161.2,144.6 148.4,153.1 137.8,163.1 132.2,170.5 127.7,178.4 124.4,186.7 122.3,195.3 121.1,204 121,212.8M121.6,221.6 125.2,239 132.8,259.9 143.3,279.9 150.7,291.4 158.9,302.5 174.3,320.4 192,337.3 212.1,353.2 234.8,367.6M167.3,139.7 152.5,147.2 143.8,153.2 136.3,159.9 130,167.3 125,175.2 119.9,188 118.1,196.8 117.3,210.3M118,219.3 120.5,232.5 126,249.7 133.5,266.1 142.4,281.8 152.8,296.8 164.4,311.2 177.3,325 191.5,338.3M217.4,127.1 192.8,131 180.8,133.9 169.3,137.5 153.2,144.4 139.2,153.2 128,163.9 120.1,176 115.4,189.3 113.9,198.4 113.6,207.6M114.3,216.8 115.9,225.9 119.5,239.1 124.4,252 130.2,264.3 136.9,276.1 146.9,291.2 155.1,302.1 167.1,316.1 187.5,336 198.9,345.5 211.2,354.6 224.4,363.3 238.7,371.3 254,378.5 264.7,382.8M160.2,139.4 149.1,144.3 139.1,150 130.3,156.7 123,164.2 117.4,172.5 113.4,181.4 111,190.6 109.9,204.7M110.6,214.2 113.3,228 119.2,245.8 127,262.5 136.1,278.2 146.4,293.1 160.7,310.7 176.7,327.4 190.9,340.2M208.1,128.2 181.9,132.3 162.7,137.2 145,144.1 129.7,153.2 121.4,160.6 117.9,164.6 112.4,173.2 110.3,177.7 107.4,187.2 106,201.7M106.7,211.4 108.3,221 110.8,230.3 113.9,239.3 119.5,252.3 125.9,264.7 133,276.5 148.8,298.5 166.7,318.9 187,338.2 198.3,347.4 210.6,356.2 233.1,369.9M153.1,139.1 135.2,146.7 124.8,153.2 116.3,160.7 109.8,169.3 105.3,178.6 102.8,188.4 102.1,198.4 103.4,213.4 107,227.9 114.1,246.1 122.7,262.9 132.4,278.6 145.7,296.8 160.3,313.8 176.4,329.9 190.6,342.3M198.4,129.4 170.2,133.7 149.6,138.9 130.7,146.5 119.9,153.1 111,160.9 107.5,165.2 102.1,174.6 99.1,184.6 98.3,189.8 98.1,200.1M99.3,210.4 101.7,220.4 106.6,234.9 112.6,248.4 121.9,265.2 132,280.7 142.8,295.2 157.2,312.1 169.8,325 183.3,337.4 198.1,349.3 214.5,360.7 227.9,368.7 242.5,376.1 258.2,382.6 274.9,387.9 286.5,390.6M146.2,138.8 132.5,143.5 120.2,149.5 109.9,156.8 105.6,161 102.1,165.6 96.9,175.3 94.3,185.8 93.9,196.5M95.1,207.2 99.1,222.7 106.9,241.9 116.2,259.3 129,279.1 142.7,297.1 157.3,313.7 173.1,329.5 190.5,344.5M180.7,131.6 157.9,135.2 135.4,140.8 121.6,146 109.6,152.8 100.1,161.2 96.5,165.9 93.7,170.9 90.4,181.5 89.5,192.6M90.7,203.7 93.2,214.5 96.8,224.9 100.9,234.8 107.9,248.8 123.3,273.7 142.7,299 163.6,321.7 187,342.8 210.2,359.7 232.4,372.6M139.5,138.5 124.1,143 117,145.8 104.2,152.6 98.9,156.7 94.4,161.2 90.9,166.1 88.2,171.4 86.4,176.9 85.1,188.3M86.1,199.9 90.6,216.7 99.3,237.2 109.5,255.6 123,276 137,294.1 154.6,313.9 173.4,332.3 190.8,346.8M169.6,133.1 144.6,136.8 120,142.7 105.2,148.7 98.7,152.3 93.2,156.5 88.6,161.3 85.1,166.4 82.6,171.9 81.1,177.7 80.5,183.7 81.3,195.7 86,213.3 90.4,224.3 98,239.7 106.1,253.6 114.5,266.4 125.7,282 137.2,296.2 148.8,309.4 161,321.8 183.9,342.4 198.5,353.6 210.4,361.6 223.3,369.3 237.3,376.4 252.5,382.8 263.3,386.4M133.3,138.4 115.9,142.5 107.7,145.2 100,148.3 93.1,152 87.2,156.3 82.6,161.2 79.1,166.7 76.9,172.5 75.8,178.6 75.7,184.8M77.5,197.4 83.5,215.5 91.3,232 105.6,256.1 120.1,276.7 137.4,298.2 155.2,317.4 174.1,335.2 191.3,349.2M148.9,135.8 130.4,138.5 111.9,142.3 94.8,148 87.3,151.7 81.1,156.1 76.3,161.2 73,166.9 71.2,173.1 70.6,179.5M72.2,192.7 76.2,205.6 81.4,217.8 87.1,229.1 96.2,244.7 114.3,271.2 126.1,286.4 137.8,300.3 161.8,325.2 184.6,345.1 206.8,361.1 219.2,368.6 232.7,375.7M127.9,138.7 108.1,142.2 98.5,144.6 89.5,147.6 81.4,151.3 74.8,155.8 69.9,161.1 66.8,167.1 65.5,173.7 65.5,180.6 68.5,194.4 76.5,214.1 86,231.6 102,256.6 117.5,277.5 135.3,299 153.2,318 171.8,335.4 192.1,351.8M125.7,139.1 94.2,144.5 84.3,147.3 75.4,150.8 68.2,155.4 63.2,160.9 60.5,167.4 59.8,174.4M62.6,189.1 68.2,203.2 78.3,222.6 88.7,239.6 102,259.1 117.9,279.9 133,297.8 150.8,316.8 166,331.4 182.2,345.1 196.2,355.7 211.6,365.8 224.2,372.9 237.9,379.5 252.9,385.3 269.1,389.9 286.4,392.9M112.9,141 90.2,144.5 79.2,147 69.3,150.4 61.3,154.9 56.2,160.7 54.1,167.7 54.5,175.3 56.4,183.1 59.2,190.8 69.9,212.3 81.1,231.1 99,257.1 118.4,282.2 136.6,303.2 154.5,321.7 173,338.6 193.1,354.4M86.8,144.8 74.6,147 63.2,150 54.1,154.3 49,160.5 47.9,168.1 49.6,176.3 52.7,184.6 60.5,200.5 73,221.4 88.6,244.8 109.6,272.7 131.5,298.7 152.3,320.6 173.8,340.2 193.8,355.8 212.5,368 234,379.2M70.8,147.3 57.6,149.8 46.7,153.7 41.6,160.2 42.3,168.7 45.7,177.7 54.8,194.9 68.6,217.4 85.3,242 103.7,266.7 123.2,290.6 141.4,310.6 159.2,328.2 177.8,344.5 194.5,357.2M53.3,150.2 39.2,153.1 34.6,160.1 38.3,169.9 54.3,197.4 82.1,239 97.6,260 114.8,281.6 142.4,312.7 157.2,327.3 172.3,340.9M178.6,346.1 198.8,361 221.9,374.8 244.3,384.7 264.6,390.8M34.7,153.7 31.1,161.4 60.5,208.3 87.5,247.3 109.4,275.9 131.7,302 152.4,323.6 173.3,342.6M182.8,350.2 196.1,360M76.8,232.4 100.6,265.1 126.9,297.4 150.7,322.7 174.4,344.4M183.8,351.9 197,361.5 211.4,370.7 223.2,377.1 236.1,383M102.5,267.7 122.4,292.5 140.4,312.8 157.8,330.3 175.5,346.1M181.7,351.1 198,363M117.9,287.2 139.1,311.8 159.2,332.3 179.8,350.4 202.5,366.8 224.9,379.5 246.6,388.2 266.2,393.2 276.8,394.6 287.8,395.3M129.2,300.7 146.5,320.1 163.5,337 181.1,352.2 200.1,366.1M139.8,313 151.1,325.2 165,339 176.5,349.1 188.5,358.7 201.3,367.7 215.3,376.1 226.7,381.9 239.2,387.1M147.4,321.4 161.1,335.7 175.1,348.6 189.9,360.5 202.6,369.4M154.9,329.4 168.4,343 182.5,355.4 197.5,366.7 210.6,375.1 225,382.7 241,389.3 254.2,393.1 268.5,395.7M159.6,334.4 170.2,345.1 181.3,354.9 192.9,364.1 205.3,372.7M166.9,341.9 185.8,359.3 203.6,372.4 223.8,383.9 243.1,391.5M171.6,346.6 190.4,363.5 208.4,376.2M176.3,351.3 189.5,363.3 203.9,374 219.7,383.5 233.9,390 249.5,395 262.3,397.4 276.1,398.4 290.5,397.7M181.1,355.9 197,369.7 211.7,379.8M185.9,360.5 201.8,373.9 216.6,383.5 233.2,391.5 248,396.3M190.7,365 203.8,375.9 215.4,383.6M193.1,367.2 203.3,376 211.5,381.9 223.4,388.9 233,393.3 243.4,396.9 254.6,399.5 266.5,400.8 274.9,400.9M198,371.7 208.2,380.2 219.3,387.5M202.9,376.2 215.8,386.1 227.3,392.7 240,397.8 253.8,401.3M205.5,378.5 215.5,386.5 223.7,391.6M210.5,382.9 220.6,390.5 228.8,395.3 240.7,400.2 250.3,402.8 260.6,404.1 271.5,404.2 282.8,402.9 294.5,400M213.3,385.3 220.5,391 228.4,395.9M216.1,387.7 225.7,395.1 236.3,400.8 248,404.6 260.6,406.4M221.3,392.2 233.4,400.4M224.3,394.7 231.2,399.9 238.7,404 246.8,406.9 252.4,408.2 261.3,409 267.5,408.9 277,407.6 283.6,406M227.4,397.3 234.1,402.4 238.9,405.1M232.8,401.8 239.5,406.3 249.3,410.3 257.2,411.8 268.4,411.7M236.1,404.5 244.9,410M239.5,407.3 245.8,411.5 252.6,414.2 259.8,415.4 267.4,415.1 275.3,413.6 283.3,410.8 291.4,406.9 299.6,401.9M243.1,410.2 251.2,415.1M248.7,414.6 254.6,417.8 261,419.3 267.8,419.2 277.1,416.8M252.5,417.6 258.1,420.5M256.4,420.7 259.9,422.7 263.7,423.7 267.6,424 273.6,422.9 283.9,418.1 294.2,410.4M260.5,423.8 265.6,426.1M264.8,427.1 269.5,429.1 274.5,428.7 279.8,426.6 286.8,421.7M269.3,430.5 273.6,432M273.9,434 276.5,435 279.2,434.8 282,433.5 286.3,430.2 294.7,420.2 305.4,403.3M278.7,437.6 282.2,438.1M283.8,441.3 286.8,441.2 290,438.3 297.3,426M289.1,445.1 291.5,444.3M294.6,449 296.5,447.5 299.1,441 306.3,413.4M299.9,452.9 300.7,452.7 301.6,450.6M306.2,457.3 307,451.8 308.5,429.3M312.7,461.9 312.3,456.7M319.5,466.6 316.7,451 312,408.9M326.7,471.5 323.7,462.3M335.2,477.2 333.1,474.3 330.8,468.2 320.1,431.1M343.4,482.8 340.4,478.3 335.6,466.8M352.1,488.5 347.9,481.8 343.7,472.9 322.3,422.5M363.5,495.7 361.1,493.9 358.4,489.6 347.7,469.5M373.7,502.6 366.6,492.1 343.6,452.3M397.8,488.4 395.8,491.9 392.1,490.3 383.1,481.3 370.5,466.9M402.8,480.2 400.7,483.4 397.3,483.2 388.6,477.1 371.6,460.4 345.6,432.5M407.5,472.3 405.2,475.4 401.9,476 397.9,474.7 389.1,468.9 380.3,461.7M411.7,464.9 409.4,467.9 406.2,469 402.3,468.5 393.6,464.4 384.8,458.4 372.4,448.7 333.6,415M415.7,457.8 413.3,460.7 410.1,462.2 406.3,462.3 397.8,459.6 388.9,454.8M419.4,451.2 416.8,454 413.7,455.7 410,456.2 405.9,455.8 397.2,453 379.7,443.8 353.1,426M424.8,441 422.8,444.8 420.2,447.6 417,449.4 413.3,450.3 405.1,449.8 396.2,447.1M428.1,435.2 425.9,438.8 423.3,441.6 420.1,443.5 416.5,444.7 408.3,444.9 399.5,443.1 386.2,438.3 369.4,430.1 350.4,419.4 326.5,404.4M431.1,429.7 428.9,433.1 426.1,435.8 419.3,439.2 411.3,440.1 402.6,439.1M434,424.4 431.6,427.7 425.6,432.5 418.1,434.9 409.8,435.4 400.9,434.4 387.5,431 374.5,426.3 362.1,421.1M438.7,415.6 434.1,422.5 428,427.3 420.6,430.1 408,431.1M441.2,410.9 436.5,417.5 433.6,420.2 426.8,424.1 418.9,426.4 406,427.1 392.5,425.4 379.1,422.3 361.8,416.7 341.4,408.6M445.6,402.6 441.3,409.7 438.7,412.7 432.4,417.6 425.1,421 412.6,423.3M447.9,398.3 443.4,405.2 437.7,410.8 430.8,415 419,418.9 410.3,419.9 396.9,419.8 383.2,418 369.7,415.2M451.9,390.5 445.3,400.9 439.5,406.4 428.9,412.5 416.6,415.8M454,386.6 447.1,396.7 437.9,404.6 426.7,410 418.4,412.3 409.7,413.6 391.5,414 373,412 350.3,407.1 328,400.3M457.8,379.2 451.4,389.6 442.7,398.2 432.1,404.5 420,408.8M459.7,375.7 453,385.8 447.3,391.7 440.8,396.6 429.7,402.5 417.2,406.5 403.9,408.7 390.1,409.4 376,408.7M463.3,368.6 457,379 448.6,387.9 438.6,395.1 431,399 422.9,402M466.8,361.7 463,368.8 458.3,375.5 449.8,384.3 439.7,391.6 432.2,395.5 424.1,398.8 406.7,403.3 388.2,405.3 369,405.1 349.5,402.9M468.5,358.6 464.4,365.6 459.6,372.1 450.9,380.8 440.8,388.1 433.3,392.2 425.3,395.7M471.8,351.9 465.7,362.3 457.9,371.7 448.7,380 438.1,387 426.3,392.6 413.5,397 399.9,400 380.9,402.1M475.1,345.4 466.8,359.2 455.9,371.3 442.6,381.5 427.2,389.7" opacity="0.05"/><path d="M323,122.6 314.4,121.7 303.8,122.3 295.6,123.9 293,125.1 291.6,126.2M301.9,134.3 308.3,135.3 314.8,135.3 320.4,134.4 325.4,132.5M332.7,133.1 333.8,132.1M330,121.9 325.2,120.9 318.8,120.4 302.4,121 295.4,122 289.7,123.5 286.3,125.1 284.8,126.9M293.6,135.1 303.6,137.8 314.7,138.5 320.1,138 325,136.8 329.3,135.1 332.7,133.1M338.2,134.8 341.5,131.4M336.2,121.1 329.7,119.7 321.8,119.1 311.1,119.3 298.6,120.3 289.4,121.7 283.5,123.3 279.6,125.2 278.5,126.6 278.2,127.7M285.8,135.5 291.8,138.2 299,140.3 306.8,141.6 313.8,142 320.6,141.5 327.8,140 333.2,137.9 338.2,134.8M343.7,136.7 346.5,134.1 348.3,131.3M342.9,120.4 335.5,118.7 325.1,118 311.2,118.5 295.3,119.9 284.4,121.4 276.9,123.3 272.7,125.6 271.7,127.2 271.7,128.6M278.5,135.9 286.1,139.9 294.5,142.8 303.7,144.8 313.2,145.5 321.4,145.1 330.1,143.4 337.7,140.5 343.7,136.7M349.2,138.8 353,134.9 355.3,130.9M349.1,119.6 340.7,117.7 328.7,117.1 311.4,117.9 290.4,119.8 278.2,121.5 270,123.6 267.2,124.9 265.8,126.2 265,127.6 265.1,129.3M272.2,136.9 280.9,141.8 291.9,145.9 302.6,148.3 313.7,149.3 323.2,148.8 333.3,146.8 342.1,143.3 349.2,138.8M354.6,140.9 359.7,135.5 362.3,130M355.7,118.9 351.9,117.7 346.2,116.7 332.7,116.3 313,117.4 283.7,120.2 270.6,122 262.8,124 260.5,125.2 259,126.5 258.3,128.2 258.5,130.1M264.7,137.2 274.1,143 286.3,148.2 300,151.7 312.6,153.1 324.9,152.6 336.3,150.3 346.5,146.3 354.6,140.9M360,143.2 363.7,139.7 366.5,136 368.4,132.3 369.2,129.7M362.5,118.3 358.3,116.9 353.4,116 338.6,115.5 318.5,116.8 276.3,120.8 263.6,122.5 256.2,124.3 253.6,125.5 252,127 251.4,128.9 251.7,130.5M257.8,137.8 268.1,144.6 281.7,150.8 297,155.2 311,157 324.8,156.8 337.8,154.4 349.4,150.1 354.5,147.2 360,143.2M365.4,145.6 369.5,141.6 372.8,137.4 375.1,133.2 376.2,129.1M368.5,117.3 361.1,115.4 351.9,114.8 338,115.2 319.3,116.7M274.5,120.9 257.5,122.9 249.4,124.7 246.6,126 245,127.6 244.5,129.7 245,131.5M250.6,138.3 256.3,142.6 263.3,146.9 271.5,151.1 278.6,154 287.9,157.1 295.6,159 311.1,161.1 318.8,161.3 326.3,160.9 333.6,159.9 340.6,158.3 347.2,156.1 353.5,153.4 359.2,150.2 365.4,145.6M370.7,148.1 375.4,143.6 379.1,138.9 381.8,134.1 383.2,129.4M374.7,116.3 367.8,114.7 359.6,114.1 348.5,114.3 334.5,115.4M259.7,122.4 247.4,124 240.8,125.8 238.9,127 237.8,128.3 237.5,130 237.9,132M243.1,138.6 249.1,143.4 256.8,148.4 265.7,153.2 273.5,156.6 283.7,160.2 292.1,162.5 300.6,164.1 309.1,165.2 317.4,165.5 325.7,165.2 333.7,164.3 343.3,162.2 350.6,159.8 357.4,156.8 363.7,153.2 370.7,148.1M376,150.8 382.4,144.4 386.4,139.1 389.1,133.7 390.4,128.5M382.2,115.9 376.5,114.3 367.9,113.4 358,113.5 345.3,114.5M249,123.6 238.2,125 232.8,126.8 231.1,128.1 230.3,129.7 231,133.2M236.4,139.7 243.1,145.2 251.7,150.8 261.6,156.1 270.2,160 281.4,164 290.6,166.5 299.8,168.3 308.9,169.4 318,169.8 326.9,169.5 335.5,168.5 345.9,166.2 355.8,162.8 363.1,159.4 369.9,155.4 376,150.8M381.1,153.5 388.3,146.6 392.9,140.6 396,134.6 397.7,128.8M388.8,114.9 382.4,113.4 374.8,112.8 355,113.7M237.9,124.8 229.9,125.9 225.3,127.5 223.6,128.9 223,130.1 223,132.1 223.6,133.8M228.4,139.8 235.4,145.8 244.6,152.1 255.3,158.1 264.6,162.5 276.7,167.1 286.6,170 296.5,172.1 308.8,173.7 318.5,174.2 328.1,173.8 339.6,172.3 348.5,170.3 359.1,166.6 367,162.9 374.4,158.6 381.1,153.5M386.3,156.4 394.2,148.8 399.4,142.3 403.7,133.9 405.2,127.6M395.4,114 390.2,112.7 384.2,112.2 375.3,112.2 365.7,112.8M229.4,125.8 222.4,126.7 217.5,128.3 215.9,129.8 215.4,131.1 216,134.3M221.2,140.9 229,147.6 239.2,154.6 251,161.2 261.2,166 271.7,170.1 282.3,173.4 292.9,175.9 306.1,177.9 316.5,178.5 329.2,178.2 341.5,176.6 351,174.4 362.3,170.5 370.9,166.6 378.9,161.8 386.3,156.4M391.3,159.4 400.1,151.2 405.9,144 411,134.8 412.8,127.8M403.9,113.6 398.5,112.2 392.1,111.5 374.8,112.1M218.9,126.9 212.3,128.1 208.9,129.7 207.9,130.9 207.6,132.3 208.7,136M212.5,140.8 220.5,148 231.4,155.7 244.1,163.1 255,168.4 266.3,173 280.5,177.5 291.8,180.2 305.9,182.2 316.9,182.9 330.3,182.5 343.3,180.8 353.4,178.5 365.5,174.5 374.7,170.3 383.3,165.2 391.3,159.4M396.3,162.5 405.9,153.7 412.4,145.9 416.3,139.8 418.3,135.8 420.6,128M411.1,112.6 407.2,111.6 400.4,110.9 384.6,111.4M209.6,128 204.2,129 200.6,130.7 199.7,132 199.6,133.6 200.6,136.6M204.7,141.9 213.7,149.8 223.1,156.6 236.8,164.8 248.5,170.7 260.5,175.8 275.7,180.9 287.8,183.9 302.7,186.3 314.3,187.3 328.6,187.1 342.4,185.6 353.1,183.4 366,179.4 375.9,175.2 387.6,168.7 396.3,162.5M401.1,165.7 411.7,156.3 418.9,147.9 423.4,141.3 425.7,136.9 428.6,128.3M418.5,111.7 409.2,110.3 395.3,110.6M201.5,129 195.7,130 192.1,131.9 191.2,134.1 192.3,137.3M196.7,143 206.6,151.7 217.1,159.2 232.1,168.1 244.7,174.4 257.7,179.8 273.8,185.1 286.6,188.3 302.3,190.8 314.5,191.7 329.5,191.5 344,190 355.3,187.7 368.9,183.5 379.4,179.1 391.8,172.3 401.1,165.7M405.9,169 417.4,159 427.2,147.7 431.9,140.5 434.4,135.7 436.1,131 437.2,126.4M426,110.7 415.8,109.6 403.6,110.1M191.4,130.3 186.9,131 183.9,132.4 182.7,134.7 183.6,138.1M186.8,142.5 194.5,149.8 208,159.9 220.7,167.8 237.6,176.6 251.4,182.6 268.6,188.5 282.1,191.9 298.6,194.8 311.5,196 327.3,196.1 342.5,194.7 357.3,191.9 371.7,187.6 382.7,183 395.9,175.9 405.9,169M410.6,172.4 423.1,161.9 433.9,149.8 439.3,142 442.2,136.8 444.4,131.6 445.7,126.6M433.9,109.8 425.5,108.9 415.9,109.2M182.5,131.4 177.7,132.2 174.6,133.8 173.8,135.4 173.7,136.4 174.6,138.9M178,143.6 186.5,151.6 201.5,162.6 215.5,171.1 233.7,180.5 248.4,186.7 266.6,192.8 280.8,196.4 298.1,199.3 311.6,200.5 328,200.5 343.9,199.1 359.4,196.2 374.3,191.7 386,187 400,179.6 410.6,172.4M415.2,175.9 428.6,164.9 440.6,152.1 446.7,143.8 450.1,138 452.7,132.4 454.5,126.9M441.9,108.9 435.9,108.3 425.6,108.6M173.1,132.6 168.1,133.4 165,135.2 164.4,137.1 164.6,138.3 166,141.2M168.9,144.8 178.3,153.5 195,165.5 210.2,174.6 229.9,184.5 245.5,190.9 264.7,197.2 279.5,200.8 297.6,203.7 311.6,204.9 328.7,204.9 345.2,203.4 361.3,200.4 377,195.8 389.1,191 403.9,183.3 415.2,175.9M419.7,179.5 434.1,168.1 442.2,160.2 447.2,154.6 454.1,145.6 458.1,139.5 461.3,133.3 463.5,127.3M450.3,108 443.5,107.6 436,108M161.3,134.1 156.7,135.3 155,136.8 154.7,139.1 156.2,142.1M159.3,146 169.9,155.6 184.5,166 200.9,176 221.9,186.7 238.6,193.7 258.8,200.5 274.5,204.5 293.4,207.8 308.1,209.2 325.9,209.5 343.1,208.2 359.9,205.4 376.3,201 392.2,195 407.7,187.2 419.7,179.5M424.1,183.2 439.4,171.4 448.2,163.2 453.8,157.2 461.6,147.7 466.1,141.1 470,134.3 472.8,127.7M455.1,107 447.1,107.4M150.9,135.5 147.3,136.3 145,137.7 144.4,139.9 145.8,143.1M149.2,147.3 161.2,157.8 177.5,169.1 195.4,179.7 218,190.9 235.6,198 256.8,204.9 273.1,208.9 292.8,212.2 308,213.6 326.4,213.9 344.3,212.6 361.7,209.7 378.6,205.2 395.2,199 411.4,191 424.1,183.2M428.3,186.9 444.6,174.8 454.1,166.3 460.2,160.1 468.9,150 474.2,142.9 478.7,135.6 482.3,128.3M139.7,137.1 136,137.9 134.7,138.6 133.9,139.6 133.6,140.8 134.9,144.2 138.6,148.7 144.6,154.2 156.6,163.3 170.5,172.4 185.1,181 209.4,193.1 232.7,202.5 254.8,209.4 267.6,212.6 280,215 300.1,217.5 319.4,218.4 338.1,217.6 359.8,214.7 377.4,210.4 394.7,204.5 411.7,196.8 428.3,186.9M432.5,190.8 449.7,178.3 459.9,169.5 466.5,163.1 476.1,152.5 482.1,145 487.5,137.1 492,129.2M127.9,138.7 124,139.7 122.8,140.6 122.2,141.8 122.4,143.4 123.3,145.3 127.5,150.2 134.4,156.2 148.1,166.2 158.3,172.8 174.2,182.1 200.3,195.2 225.1,205.3 248.4,212.8 261.8,216.1 274.8,218.8 295.7,221.6 315.7,222.8 335.1,222.3 357.7,219.6 368.7,217.4 379.6,214.6 397.4,208.6 415.1,200.8 432.5,190.8M436.5,194.7 447.4,187.4 458.2,179.1 469,169.7 476.2,162.8 486.6,151.4 493.2,143.2 499.2,134.6 504,125.9M115.2,140.5 111.2,141.8 110.2,142.9 110.1,144.4 111,146.5 112.9,148.9 119.5,155.1 128.8,162.1 139.6,169.4 151,176.5 168.3,186.2 196.1,199.7 222.1,209.9 246.4,217.4 260.3,220.7 273.7,223.3 295.2,226.1 315.9,227.2 335.9,226.6 359.1,223.9 370.4,221.6 381.6,218.8 400.1,212.8 418.3,204.8 436.5,194.7M440.4,198.7 451.7,191.3 463.2,182.9 474.7,173.3 482.3,166.2 493.8,154.3 501.3,145.6 508.3,136.4 514.4,126.9M101.6,142.6 99.2,143.1 97.6,144.1 97.1,145.6 97.9,147.7 100.1,150.4 107.9,157.3 118.8,165.1 137.4,176.8 150.1,184 168.7,193.7 192.1,204.3 219.2,214.6 244.4,222 258.8,225.3 272.6,227.9 294.8,230.6 316.1,231.6 336.6,231 360.4,228.1 372.1,225.9 383.6,223 402.7,216.9 421.5,208.9 440.4,198.7M444.1,202.7 455.9,195.3 467.9,186.8 480,177.1 488.2,169.8 500.7,157.5 509,148.5 517.1,138.6 524.6,128.3M90.2,144.5 84.4,145.5 83.3,146.9 83.9,149 86.4,152 90.5,155.7 102.2,164.1 122.9,177 136.9,184.9 157.1,195.3 182.3,206.6 211,217.5 237.5,225.4 252.4,228.9 266.9,231.7 289.9,234.7 316.2,236 337.3,235.3 361.7,232.4 385.6,227.2 405.2,221.1 424.6,213 444.1,202.7M447.7,206.8 460,199.4 472.4,190.8 485.1,181 493.7,173.6 507,161.1 516.1,151.8 525.3,141.5 534.3,130.3M74.6,147 70.8,147.3 68.6,148.4 68.8,150.5 71.8,153.8 84.1,162.8 99.5,172.4 115.3,181.5 130.5,189.6 152,200.1 178.4,211.6 208.2,222.3 235.5,230.1 250.9,233.6 265.7,236.2 289.4,239.2 316.4,240.4 337.9,239.6 363.1,236.7 387.5,231.4 407.6,225.2 427.6,217.1 447.7,206.8M451.2,211 463.8,203.5 476.6,195 489.8,185.1 498.8,177.7 512.9,165.1 522.6,155.6 543.1,133.2M57.6,149.8 53.3,150.2 52.5,152 56.7,156 73.1,166.6 108.4,186.4 124.7,194.7 147.3,205.3 174.7,216.6 205.5,227.2 233.6,234.9 249.4,238.2 264.6,240.8 288.8,243.7 316.5,244.8 338.6,243.9 364.3,240.9 389.4,235.6 410,229.4 430.5,221.3 451.2,211M454.5,215.2 476.2,202.2 498.8,185.8 513.1,173.9 523.1,164.8 544.4,143.3M39.2,153.1 34.7,153.7 42.8,159.3 64.3,171.6 84.3,182.5 111.3,196.2 135.6,207.4 157.6,216.5 177.9,224.1 196.9,230.4 214.8,235.5 237.2,240.8 253.2,243.9 273.6,246.8 288.3,248.2 307.4,249.1 325.8,249 343.7,247.9M356.9,246.4 382.8,241.9 395.5,238.7 408.1,235 420.8,230.6 433.4,225.5 454.5,215.2M457.7,219.5 479.8,206.6 502.9,190.3 522.4,174.1 543.6,154.1M38.1,166.4 59.3,178.2 79.5,188.7 98.2,197.9 123.8,209.6 161.3,224.5 181.6,231.5 200.6,237.2 218.5,241.9 235.6,245.6 251.9,248.5 272.8,251.3 287.8,252.7 307.3,253.5 321.5,253.5 339.9,252.6M362.4,250.1 388.7,245.1 410.3,239.2 423.2,234.8 436.1,229.7 457.7,219.5M460.7,223.8 478.6,213.8 497,201.8 516.1,187.4 536.3,169.9M37.7,172.3 41.8,176.1 49.3,180.9 77,195.6 112.4,211.9 143.9,224.7 172.4,234.6 204.5,243.8 234,250.4 261.4,254.7 287.3,257.2 316.9,258 340.6,256.9 368.1,253.7 394.8,248.3 416.8,242 438.7,234 460.7,223.8M463.6,228.1 481.7,218.2 500.2,206.5 519.2,192.4 533.9,180M43.9,182.3 47.1,185.8 52.7,189.8 59.9,194.1 76.4,202.8 110.2,218.1 126.2,224.6 148.8,232.9 176.7,241.9 208.7,250.3 238.2,256.2 265.8,260 292,262 317,262.4 341.2,261.3 369.3,258 396.6,252.6 419,246.3 441.3,238.2 463.6,228.1M466.3,232.5 484.5,222.7 498.3,214.3 516.9,201.1 531,189.7M49.7,191.6 52.4,194.9 57,198.5 62.9,202.3 85,213.9 116.6,227.5 146.7,238.5 174.7,247.2 206.9,255.3 236.9,261 265,264.6 291.6,266.5 317.2,266.8 341.8,265.6 370.4,262.3 398.3,256.8 421.1,250.6 443.7,242.5 466.3,232.5M468.9,236.9 487.1,227.3 500.8,219 514.4,209.6 527.9,199M55.3,200.3 57.7,203.4 61.5,206.8 66.5,210.3 72.5,213.8 86,220.9 100.8,227.5 115.7,233.6 145.1,244.1 172.9,252.4 205.3,260.3 235.6,265.8 264.1,269.3 291.3,271 317.3,271.3 342.4,270 371.6,266.6 400,261.1 423.2,254.8 446.1,246.8 468.9,236.9M471.3,241.3 484.9,234.4 498.4,226.5 511.8,217.8 524.8,208M60.5,208.3 62.8,211.4 66.1,214.5 75.7,221.1 87.8,227.6 101.3,233.9M115.5,239.6 136.8,247.3 164.6,255.8 184.5,261 210,266.5 234.4,270.5 257.6,273.4 280,275.1 307,275.9 327.8,275.4 348.1,274 372.8,271 392.1,267.5 415.8,261.8 434.5,256.2 453,249.4 471.3,241.3M473.5,245.8 487,238.9 500.3,231.3 513.2,222.7 521.5,216.5M65.5,215.9 67.6,218.8 74.5,224.9 79.1,228 90,234.2 102.4,240.1 115.7,245.5 143,255.1 170,262.8 202.4,270.2 233.2,275.3 268.2,279.1 296.1,280.3 322.9,280.1 348.8,278.4 378.9,274.6 403.3,269.8 427.2,263.5 450.6,255.5 473.5,245.8M475.6,250.2 497.6,238.6 510.2,230.5 518.3,224.7M538.9,205.3 543.7,198.3 546.9,191.4M70.3,222.9 75.1,228.7 78.6,231.7 87.4,237.6 104,246.1 122.8,253.7M135.9,258.3 155.8,264.4 182,271.1 201.1,275.1 226,279.3 250,282.2 273.3,284.1 295.8,284.9 317.7,284.8 339,283.7 359.8,281.8 380.1,279 400,275.2 419.5,270.5 438.6,264.9 457.3,258.1 475.6,250.2M477.4,254.7 499.1,243.2 515,232.6M532,217.6 539.5,207.8 542.7,201.3M74.8,229.5 76.8,232.4 82.6,238.1 95.3,246.5 111.5,254.4 129.7,261.5M142.4,265.8 161.7,271.4 187.3,277.5 206.3,281.2 231,284.9 249.1,287 272.7,288.8 295.6,289.6 317.8,289.4 339.5,288.3 360.7,286.3 381.4,283.4 401.5,279.6 421.3,274.9 440.5,269.2 459.3,262.5 477.4,254.7M479.2,259.2 496.2,250.3 511.8,240.2M528.2,226 535.4,216.8 538.6,210.6M81.1,238.6 83.5,241.4 89.9,246.9 98.2,252.3 107.9,257.4 118.8,262.3 130.4,266.8 154.9,274.7 180.1,281 211.5,287.1 242.3,291.1 272.1,293.5 301,294.3 329.1,293.5 356.2,291.4 382.6,287.9 408.1,283 432.8,276.6 456.5,268.7 479.2,259.2M480.7,263.7 497.2,254.9 508.6,247.5M521.7,236.9 529.4,228.3 534.7,219.4M85.3,244.4 87.5,247.2 93.5,252.6 101.2,257.8 110.2,262.8 120.3,267.5 131.3,271.9 154.9,279.6 179.5,285.9 210.6,291.9 241.4,295.9 271.5,298.2 300.9,299 329.4,298.2 357,296 383.8,292.5 409.7,287.5 434.6,281.1 458.3,273.2 480.7,263.7M482.1,268.1 494.2,261.7 505.4,254.7M518.2,244.5 525.7,236.3 530.9,227.8M89.3,250 91.5,252.7 97.1,257.9 104.2,263.1 112.6,268 122.1,272.6 132.5,276.9 155,284.5M166.9,287.8 185.2,292.1 203.6,295.6 222.2,298.5 246.7,301.3 265,302.7 288.9,303.6 312.4,303.6 335.4,302.6 357.8,300.7 379.6,297.9 400.8,294.2 416.3,290.9 436.3,285.6 450.7,281 469.1,274 482.1,268.1M483.3,272.6 495,266.2 502.2,261.6M514.7,251.8 519.9,246.6 524.1,241.3 528.5,233.1M93.2,255.3 97.7,260.5 103.7,265.6 111,270.5 119.4,275.2 139,283.7 161.1,290.9M172.8,294 190.8,298 209.1,301.4 227.5,304 252.1,306.6 270.5,307.8 294.6,308.5 312.4,308.4 335.8,307.4 358.6,305.4 380.8,302.6 402.3,298.8 417.9,295.4 438,290.1 452.4,285.5 470.5,278.5 483.3,272.6M484.3,277 499.1,268.4M511.4,258.9 516.4,253.9 520.6,248.8 525,240.8M96.9,260.3 101.3,265.5 106.9,270.5 113.8,275.3 121.7,279.9 140.3,288.3 150.6,292 167.1,297.1M178.6,300 196.4,303.9 214.6,307.1 233,309.5 257.6,311.9 276.1,312.9 300.4,313.4 318.4,313.1 342,311.8 359.4,310.3 381.9,307.4 403.7,303.5 419.4,300.1 439.6,294.6 453.9,290 471.9,282.9 484.3,277M485.1,281.5 495.9,275.1M508.1,265.9 513.1,261 517.2,256 521.6,248.3M100.6,265.1 104.7,270.2 110.1,275.1 116.6,279.9 128.1,286.6 146.5,294.7 156.7,298.3 173,303.1M184.4,305.9 202,309.6 220.1,312.7 238.5,315 263.3,317.1 281.8,318 306.4,318.3 324.6,317.8 348.5,316.3 371.7,313.8 388.6,311.3 410.4,307.2 426.1,303.5 446,297.7 460,292.8 473.1,287.4 485.1,281.5M485.8,285.9 492.8,281.6M504.9,272.6 509.8,267.9 513.9,263 518.3,255.5M106,272.2 110.6,277.2 116.2,281.9 122.8,286.5 134.4,293 152.6,300.8 162.7,304.3 178.8,309M190.1,311.7 207.6,315.3 225.7,318.2 244.1,320.4 269,322.4 287.7,323.2 306.3,323.3 324.8,322.8 349.1,321.3 372.7,318.8 389.8,316.2 411.9,312 427.6,308.2 447.5,302.3 461.3,297.3 474.1,291.8 485.8,285.9M501.7,279.3 506.5,274.6 510.6,269.9 515.1,262.5M109.4,276.6 113.8,281.5 119.1,286.2 125.4,290.7 136.5,297.2 144.8,301.2 158.6,306.8 168.6,310.2 184.6,314.8M195.8,317.5 213.2,320.9 231.3,323.7 249.7,325.9 274.8,327.7 293.7,328.3 312.6,328.3 331.2,327.7 355.7,325.9 379.5,323.1 396.7,320.3 413.3,316.9 429.1,313 448.9,307 462.5,301.9 475,296.3 486.3,290.3M498.5,285.8 503.3,281.2 507.4,276.5 510.6,271.7 513,266.8M112.7,280.8 117,285.6 125,292.5 131.4,297 142.4,303.3 150.8,307.2 164.5,312.7 174.4,316 190.3,320.5M201.4,323.1 218.8,326.5 236.9,329.2 255.5,331.3 274.4,332.7 293.5,333.4 312.6,333.5 331.6,332.9 356.5,331.1 380.6,328.2 398,325.4 414.7,321.9 430.6,317.9 450.2,311.7 463.7,306.4 475.8,300.7 486.6,294.6M492.6,294.5 500.2,287.7 504.2,283.1 507.5,278.3 509.9,273.5M116,284.9 122.4,291.9 127.7,296.4 133.8,300.9 144.4,307.2 152.4,311.1 165.6,316.7 180.2,321.7 195.9,326.1M207.1,328.7 224.5,332.1 242.6,334.8 261.3,336.8 280.4,338.1 299.7,338.8 319.1,338.7 338.3,337.9 357.2,336.5 375.6,334.4 399.3,330.6 416.1,327 432,322.8 446.8,318.1 460.4,312.8 472.6,307.1 483.4,301M489.5,301 494.7,296.5 499.2,291.9 502.9,287.2 506.9,280M121.1,291.1 127.9,298 136.3,304.6 146.5,310.9 154.1,314.9 166.8,320.5 176,324 201.6,331.7M212.7,334.3 230.1,337.7 248.4,340.4 267.3,342.4 286.6,343.7 319.2,344.1 338.7,343.4 357.9,342 376.7,339.8 394.7,337 412,333.5 428.2,329.3 443.3,324.6 457.1,319.3 469.5,313.6 480.3,307.5M486.4,307.4 496.1,298.3 499.8,293.6 503.9,286.4M124.2,294.8 130.7,301.6 138.8,308.2 148.5,314.6 155.9,318.6 168.1,324.3 181.7,329.6 207.2,337.3M218.3,339.9 235.9,343.3 254.2,346 273.3,348 292.9,349.3 312.7,349.7 332.5,349.4 365.1,347 396,342.5 413.4,338.8 429.6,334.5 444.5,329.5 458.1,324 470.1,318.1 480.4,311.8M486,311.6 490.8,306.9 494.9,302.3 498.3,297.5 500.9,292.7M127.2,298.4 133.5,305.2 141.4,311.8 150.7,318.1 161.5,324.1 173.7,329.8 187.3,335.1 212.9,342.9M224,345.5 241.6,349 260.2,351.8 292.7,354.7 312.7,355.4 332.9,355.1 352.8,354 365.9,352.8 378.7,351.2 397.2,348.1 414.7,344.3 430.9,339.7 440.9,336.3 454.7,330.7 466.8,324.7 477.3,318.3M485.4,315.7 491.9,308.6 495.2,303.8 497.9,299M132.1,304.2 138.7,310.8 146.7,317.3 156.1,323.6 167,329.6 179.2,335.3 192.9,340.6 218.5,348.5M229.7,351.2 247.5,354.8 266.2,357.7 285.8,359.7 299.2,360.6 319.5,361.2 333.2,361.1 353.5,360 366.8,358.8 379.8,357.2 398.5,353.9 410.4,351.3 427,346.7 437.2,343.2 451.2,337.6 463.5,331.4 474.1,324.8M480.1,320.3 485.4,315.7M484.7,319.7 490.6,312.5 494.9,305.2M135,307.5 141.4,314.1 149.1,320.6 158.2,326.9 168.7,333 180.5,338.8 193.7,344.4 208.3,349.5 224.2,354.2M235.5,357 253.4,360.7 266,362.8 285.6,365.2 299.1,366.3 319.7,367.2 333.5,367.2 354.2,366.2 367.7,365 380.9,363.3 399.8,359.9 411.7,357.1 428.3,352.2 438.4,348.5 452.1,342.5 460.2,338.2 470.9,331.5M477,326.8 484.7,319.7M483.7,323.7 489.2,316.3 493,308.9M137.9,310.8 146.4,319.5 154.3,325.9 163.5,332.2 174.1,338.3 186,344.2 199.2,349.8 213.9,355.1 229.9,360M241.3,362.9 259.4,366.8 272.2,369 292.1,371.5 305.8,372.6 326.8,373.5 340.9,373.3 368.6,371.4 394.9,367.4 407.1,364.6 424.2,359.7 434.6,355.9 448.6,349.7 456.9,345.2 467.7,338.3M473.8,333.5 483.7,323.7M482.6,327.6 486.1,322.6 490,315.1M142.7,316.2 151.5,324.8 159.5,331.2 168.8,337.5 179.4,343.6 191.4,349.6 204.7,355.3 219.5,360.8 235.6,365.8M247.1,368.9 265.6,373 278.5,375.3 298.8,378 312.8,379.2 341.3,379.9 355.5,379.3 369.5,378.1 383.1,376.3 396.1,373.8 408.4,370.9 420,367.4 430.7,363.5 445,357.1 453.4,352.5 464.4,345.2M470.6,340.2 476,335.2 482.6,327.6M481.3,331.5 487,321.2M145.5,319.3 154,327.8 161.8,334.2 174.1,342.6 184.8,348.9 196.8,355 210.2,360.9 225.1,366.6 241.4,371.9M253.1,375.1 271.8,379.5 285,382 312.8,385.5 327.3,386.4 341.8,386.7 356.3,386.2 370.5,385 384.2,383.1 397.4,380.5 409.7,377.3 421.2,373.5 431.8,369.3 441.3,364.7 449.9,359.9 461.1,352.3M467.3,347.2 475.2,339.3 481.3,331.5M479.9,335.3 482.8,330M150.2,324.4 159,332.9 166.9,339.3 179.3,347.8 190.1,354.1 202.2,360.4 215.8,366.5 230.8,372.4 247.3,378M259.1,381.5 278.2,386.2 291.7,388.9 305.7,391 320.1,392.6 334.9,393.5 349.6,393.7 371.5,392.3 392.1,388.9 405,385.7 416.9,381.9 427.7,377.5 437.6,372.7 446.3,367.6 457.7,359.7M464,354.2 472,346.1 479.9,335.3M152.9,327.3 161.4,335.8 171.9,344.3 184.5,352.9 195.4,359.4 207.7,365.8 221.3,372.2 236.5,378.4 253.2,384.4M265.3,388.1 291.6,394.7 305.6,397.4 320.2,399.4 335.2,400.7 350.3,401.1 372.5,399.8 393.4,396.2 406.3,392.7 418.1,388.5 428.8,383.7 438.3,378.4 446.8,372.9 454.2,367.3M460.7,361.5 471,350.1 478.3,339M157.5,332.3 164,338.6 171.4,345 186.4,355.8 204.7,366.9 226.9,378 247.8,386.7 271.6,395 298.5,402.2 320.4,406.3 343.2,408.5 358.5,408.7 373.5,407.7 380.8,406.7 394.7,403.9 407.6,400 424.6,392.6 438.9,384.2 450.7,375.2M457.3,369.1 467.7,357 471.7,351.1 476.5,342.6M162.2,337.1 171.2,345.6 179.2,352.1 198.5,365.4 223.1,379.2 248.1,390.9 265.5,397.8 278,402.2 291.4,406.4 305.6,410.2 328.1,414.6 343.7,416.4 351.5,416.8 367,416.6 374.6,415.9 389.1,413.5 396,411.8 408.8,407.4 414.7,404.9 425.6,399.2 439.4,389.9 447.1,383.4 453.7,376.9 464.3,364.1 468.4,357.9 473.3,349M164.9,339.8 173.6,348.3 184.2,357 196.7,366 211.5,375.3 228.6,384.9 243.3,392.4 259.8,399.9 278.1,407.3M291.4,412.1 305.6,416.5 320.5,420.4 336.2,423.4 352.1,425.2 368,425.3 375.7,424.6 383.2,423.5 397.3,420 410,415.1 421.3,409.1 431.1,402.4 439.6,395.5 446.9,388.5 455.9,378.1 463,368.1 470,355.5M169.5,344.5 178.5,353 189.2,361.8 201.9,371 216.9,380.7 234.3,390.8 249.2,398.7 265.9,406.8 284.7,415M298.3,420.3 313,425.3 328.5,429.6 344.6,432.8 352.8,433.9 369,434.4 376.9,433.8 384.5,432.6 398.6,428.6 405.1,425.9 416.8,419.6 427,412.4 435.6,404.8 443.1,397.2 452.3,386 459.5,375.4 465,365.3M174.2,349.2 183.4,357.7 191.4,364.4 210.7,378.6 235.3,394 266.3,411 291.4,423 305.5,428.9 320.7,434.6 336.7,439.4 345,441.4 361.8,443.8 370,444 378.1,443.5 385.8,442.2 393.1,440.2 399.9,437.6 406.3,434.4 417.7,427 422.7,423 431.6,414.7 442.5,402.2 453.5,386.5 461.4,372.2M178.9,353.8 190.9,364.6 202.4,373.9 216.1,383.7 232,394.3 250.7,405.7 266.7,414.9 284.9,424.7 305.5,434.8M320.7,441.4 336.9,447.5 345.4,450.1 354,452.2 362.6,453.6 371.1,454.2 379.3,453.7 387.1,452.3 394.4,449.9 401.2,446.8 407.4,443 413,438.8 418.2,434.3 427.4,425.1 435.1,415.9 441.6,407 449.7,394.5 455.9,382.9M183.6,358.3 201.5,374 221.4,388.9 246.7,405.9 273,422 305.6,440.2 328.7,451.6 345.7,458.7 354.5,461.6 363.4,463.8 372.2,464.9 380.6,464.6 388.5,463 395.7,460 402.3,456.1 408.2,451.5 418.5,441.4 430.8,426 440.3,411.5 450,394.2M188.4,362.8 206.6,378.7 226.8,394.1 252.5,411.9 285.5,432.9 312.9,449.3 337.1,462.6 354.9,470.9 364.2,474.1 373.3,476.1 382,476.3 389.9,474.2 396.9,470.3 403.2,465.3 413.7,453.8 422.4,442 432.9,425.6 443.6,406.3M195.5,369.5 211.7,383.4 232.3,399.3 258.5,417.9 285.9,436.3 320.5,458.7 345.8,474.1 364.7,484.2 374.4,487.8 383.4,488.7 391.3,485.8 397.8,480.3 403.5,473.7 408.5,466.8 417.3,453.4 428.1,435.2 436.6,419.3M200.4,373.9 216.9,388.1 234,401.5 254.8,417 286.4,439.2 364.7,492.3 375,498.6 385,502 392.1,496.6 397.8,488.4 411.7,464.9 422.8,444.8M207.9,380.6 228.7,398.1 256.1,419.1 299.3,450.3 363.5,495.7M218.4,389.7 245.1,411.4 287.6,443.3 335.2,477.2 352.1,488.5 361.1,493.9M229.6,399.1 254.8,419.3 282.9,440.5 312.7,461.9 334.2,476.4M245.1,411.7 273.9,434 300.3,453.1M332.7,133.1 349.2,138.8 365.4,145.6 381.1,153.5 391.3,159.4 405.9,169 415.2,175.9 428.3,186.9 436.5,194.7 444.1,202.7 454.5,215.2 463.6,228.1 471.3,241.3 475.6,250.2 480.7,263.7 484.3,277 486.3,290.3M486.4,307.4 485.4,315.7 483.7,323.7 481.3,331.5 478.3,339M435.9,188.5 448,200.3 458.8,212.8 465.2,221.4 473.4,234.6 480,248.1 485,261.6 488.2,275 489.7,288.1M489.5,301 488.5,309.3 486.8,317.3 484.5,325.1 479.7,336.2M389.6,153.5 410.7,165.2 430.3,178.7 439.4,186.1 447.9,193.9 455.9,202 463.1,210.4 469.6,219 475.4,227.8 480.4,236.8 484.5,245.8 487.8,254.9 490.3,263.9 491.9,272.8 492.8,281.6M492.6,294.5 491.6,302.9 489.9,311 487.5,318.8 482.8,330M442.8,183.6 455.9,195.3 463.8,203.5 474.1,216.4 480,225.3 484.9,234.4 490.6,248 494.2,261.7 495.9,275.1M495.3,292.3 493.9,300.6 491.9,308.6 489.2,316.3 485.9,323.7M357.8,137.9 375.4,143.6 387,148 404.1,155.5 415.2,161.2 431.3,170.5 441.4,177.4 451,184.8 459.9,192.6 468,200.8 475.3,209.4 481.7,218.2 487.1,227.3 491.5,236.5 494.9,245.7 497.2,254.9 499.1,268.4M498.5,285.8 497.1,294.2 494.9,302.3 492.2,310 487,321.2M449.7,178.3 463.9,189.8 472.3,198 479.8,206.6 486.3,215.5 491.7,224.6 497.6,238.6 500.2,247.9 502.2,261.6M501.7,279.3 500.2,287.7 498,295.9 495.2,303.8 490,315.1M395.6,147.2 419.5,156.9 431.2,162.5 442.4,168.7 453.1,175.5 463.2,182.9 476.6,195 487.8,208.1 496.2,221.9 501.9,236 504.2,245.4 505.4,254.7M504.9,272.6 503.3,281.2 501.1,289.5 498.3,297.5 493,308.9M456.5,172.6 467,179.8 476.6,187.7 485.1,196.1 492.4,205 498.3,214.3 502.9,223.7 506.1,233.3 508.6,247.5M508.1,265.9 506.5,274.6 504.2,283.1 501.3,291.2 497.9,299M341.5,131.4 360.2,134.7 379.1,138.9 398.2,143.9 410.9,147.9 429.8,154.8 442.2,160.2 454.1,166.3 465.4,173 475.9,180.5 485.4,188.6 493.5,197.3 497,201.8 502.9,211.2 507.3,220.8 510.2,230.5 511.8,240.2M511.4,258.9 509.8,267.9 507.4,276.5 504.4,284.8 500.9,292.7M463.2,166.4 474.7,173.3 485.1,181 494.2,189.4 498.2,193.9 504.9,203.2 509.9,212.8 513.2,222.7 515,232.6M514.7,251.8 513.1,261 510.6,269.9 507.5,278.3 503.9,286.4M400.4,140.6 427.2,147.7 447.2,154.6 466.5,163.1 478.5,169.8 484.1,173.5 494.3,181.5 498.8,185.8 506.5,194.9 509.6,199.7 514.4,209.6 516.1,214.6 518.3,224.7M518.2,244.5 516.4,253.9 513.9,263 510.6,271.7 506.9,280M469.8,159.7 482.3,166.2 493.7,173.6 503.5,182 507.6,186.6 511.3,191.3 516.9,201.1 519,206.2 521.5,216.5M521.7,236.9 519.9,246.6 517.2,256 513.8,265 509.9,273.5M361.8,131.6 395.4,136.1 416.3,139.8 430.5,142.9 444.8,146.6 459.1,151 479.7,159.1 492.3,165.9 498.1,169.7 508.2,178 512.5,182.6 516.1,187.4 519.2,192.4 521.6,197.5 524.8,208M524.5,234.1 520.6,248.8 517.1,258 513,266.8M476.1,152.5 490,158.4 496.5,161.8 508.1,169.5 513.1,173.9 517.4,178.5 521.1,183.3 524,188.4 526.3,193.7 527.9,199M528.2,226 524.1,241.3 518.3,255.5M403.7,133.9 433.2,138.1 456.2,142.6 479.2,148.8 493.8,154.3 507,161.1 512.9,165.1 518,169.4 522.4,174.1 526.1,179.1 528.9,184.3 531,189.7M532,217.6 527.7,233.5 521.6,248.3M482.1,145 497.6,150 504.8,153.1 511.6,156.6 517.7,160.5 523.1,164.8 527.6,169.5 531.2,174.6 533.9,180M534.8,214.4 531.5,225.4 525,240.8M376.2,129.1 412.2,131.2 443.4,134.2 468.1,137.7 493.2,143.2 509,148.5 516.1,151.8 522.6,155.6 528.2,159.9 532.8,164.6 536.3,169.9M538.9,205.3 535.4,216.8 528.5,233.1M487.5,137.1 504.9,141 513.1,143.6 520.7,146.7 527.6,150.4 533.5,154.7 538.1,159.5M541.5,201.8 534.7,219.4M405.2,127.6 436.8,128.7 462.5,130.2 480.7,131.9 499.2,134.6 517.1,138.6 525.3,141.5 532.7,144.9 538.9,149.1 543.6,154.1M543.7,198.3 538.6,210.6M492,129.2 511.5,131.6 521,133.5 529.9,136 537.8,139.2 544.4,143.3M548.2,188.2 542.7,201.3M504,125.9 524.6,128.3 534.3,130.3 543.1,133.2M403.9,113.6 450.3,108M362.5,118.3 393.8,113.5 421.2,109.9 443.5,107.6 459.1,106.7M390.2,112.7 415.8,109.6 436,108M352.9,118 386.3,112.3 415.9,109.2M382.1,112.1 403.6,110.1M329.5,121.8 358.2,115.1 372.8,112.7 387.4,111.2M343.7,116.5 356,114.1 368.2,112.6M324.6,120.8 335,117.2 341.8,115.5 355,113.7M332.7,116.3 340.6,114.8M318.8,120.4 324.8,117.2 330.6,115.7M320.7,116.8 323.1,116.3M312.6,120.3 313.6,118.3 315,117M306.3,120.7 304.2,119 301.4,118.3M300.2,121.3 295.3,119.9 288.3,119.5M294.7,122.2 283.5,120.7 272.9,121.1M275,121.3 266.8,121.7M290.2,123.3 275.4,122.1 265.9,122.1 256.7,122.7M266.8,122.8 246,123.9M286.9,124.7 269.4,123.8 257.8,123.8 240.6,124.6 229.4,125.8M261,124.8 236.1,125.5 217.4,127.1M221.2,127 201.5,129M285,126.4 259.3,126.2 232.8,126.8 212.3,128.1 191.4,130.3M217.5,128.3 195.7,130 173.1,132.6M258.4,127.8 230.8,128.6 201.3,130.2 177.7,132.2 161.3,134.1M215.5,130.4 175.5,133.1 139.7,137.1M265.1,129.3 215.3,131.8 174.1,134.5 146,136.9 115.2,140.5M124,139.7 101.6,142.6 90.2,144.5M215.6,133.4 122.8,140.6 99.2,143.1 74.6,147M122.2,141.8 84.4,145.5 70.8,147.3 57.6,149.8M208.7,136 68.6,148.4 53.3,150.2 39.2,153.1M123.3,145.3 34.7,153.7M37.7,172.3 55.3,200.3 74.8,229.5M136.4,146.3 86.4,152 56.7,156 42.8,159.3 38.1,166.4 41.8,176.1 47.1,185.8 57.7,203.4 76.8,232.4 100.6,265.1M127.5,150.2 90.5,155.7 77.2,158.1 64.3,161.1 53.6,165.6 48.6,172.4 49.3,180.9 52.7,189.8 57,198.5 66.1,214.5 79.4,235.2 91.5,252.7 102.5,267.7 116,284.9M212.5,140.8 141.4,151.4 119.5,155.1 96,159.8 84.1,162.8 73.1,166.6 64.3,171.6 59.3,178.2 58.3,185.9 59.9,194.1 62.9,202.3 70.5,217.8 82.6,238.1 97.7,260.5 111.5,279.1 127.2,298.4M134.4,156.2 113.1,161.1 102.2,164.1 91.7,167.6 82.1,172 74.5,177.2 69.6,183.6 67.6,190.9 67.9,198.5 69.7,206.2 72.5,213.8 79.1,228 86.3,240.9 97.1,257.9 110.6,277.2 123.1,293.4 137.9,310.8M222.5,142.2 184,149.5 157.7,155 138.7,159.5 118.8,165.1 108.9,168.5 99.5,172.4 91.1,177.1 84.3,182.5 79.5,188.7 77,195.6 76.4,202.8 77.2,210.1 79,217.4 81.5,224.4 87.4,237.6 97.1,255.2 113.2,279.6 128.3,299.4 145.5,319.3M143.2,162.8 124.9,169.1 115.9,172.8 107.4,177 99.9,181.9 93.7,187.4 89.1,193.5 86.2,200 84.9,206.9 85,213.9 86,220.9 90,234.2 95.3,246.5 104.2,263.1 113.2,277.5 125,294.2 139.1,312 152.9,327.3M257.8,137.8 225.5,144.9 196.9,151.8 173.3,158.1 148.1,166.2 131.1,173 122.9,177 115.3,181.5 108.4,186.4 102.7,191.9 98.2,197.9 95.2,204.3 93.5,210.9 92.9,217.6 93.3,224.2 96.1,237.2 98.1,243.3 102.9,254.9 108.2,265.5 113.8,275.3 125,292.5 141.4,314.1 157.5,332.3M153.2,169.5 137.4,176.8 130,181 123,185.6 116.7,190.7 111.3,196.2 107,202 103.9,208.2 101.9,214.6 100.9,221.1 100.8,227.5 102.4,240.1 105.8,251.9 112.6,268 120.2,282.2 130.7,298.7 141.2,313 151.7,325.7 164.9,339.8M229,147.6 195.1,158.2 173.2,166.3 151,176.5 136.9,184.9 130.5,189.6 124.7,194.7 119.7,200.1 115.6,205.9 112.4,211.9 110.2,218.1 108.8,224.4 108.2,230.6M109,242.8 111.5,254.4 115.1,265.2 121.7,279.9 128.9,292.9 136.3,304.6 146.4,318.5 156.6,330.8 169.5,344.5M163.6,176 150.1,184 137.9,193.3 132.5,198.4 127.8,203.9 123.8,209.6 120.6,215.4 118.2,221.5 116.6,227.5 115.7,233.6 115.7,245.5 117.4,256.9 120.3,267.5 126,282.1 132.6,295.1 141.9,310.4 151.6,323.8 161.4,335.8 174.2,349.2M278.5,135.9 250.5,144.4 220.6,154.9 195,165.5 175.4,175.4 162.5,183.1 156.4,187.4 145,196.8 135.6,207.4 131.8,213 128.6,218.7 126.2,224.6 124.4,230.5 123.2,236.4 122.5,248.1 122.8,253.7 124.5,264.6 128.8,279.6 132.4,288.7 138.6,301.2 149.7,319.4 156.7,329 163.9,337.9 178.9,353.8M174.2,182.1 162.6,190.6 152,200.1 143.1,210.6 139.5,216.1 136.4,221.8 132,233.3 130.6,239.1 129.3,250.5M129.7,261.5 131.3,271.9 135.3,286.3 140.5,299.2 146.5,310.9 155,324.8 164.1,337.2 173.6,348.3 183.6,358.3M237,153.2 214.2,163.9 202.5,170.2 190.9,177.2 174,189.2 163.6,198.4 158.8,203.3 150.5,213.7 147,219.1 141.4,230.3 137.9,241.7 136.8,247.3 135.9,258.3M136.4,268.9 137.9,278.9 141.7,292.7 146.5,305.3 152.1,316.6 160.3,330.1 169.1,342.2 178.5,353 188.4,362.8M184.7,187.7 174.7,196.6 165.5,206.2 157.6,216.5 151.3,227.4 146.7,238.5 143.9,249.6 142.5,260.5 142.5,270.9 143.5,280.8 146.5,294.7 150.8,307.2 155.9,318.6 163.5,332.2 171.9,344.3 181,355.2 190.7,365M271.8,141.7 251.7,150.8 231.1,161.6 210.2,174.6 194.9,186.1 180.6,199.3 172,209 168.1,214 161.3,224.5 158.5,229.9 153.9,240.9 152.2,246.4 149.8,257.2 148.7,272.8 149.8,287.4 151.5,296.5 153.9,305 156.6,313 161.5,324.1 170.8,340.5 181.4,354.8 188.2,362.4 195.5,369.5M195.2,192.8 186.4,201.9 178.4,211.6 171.3,221.8 165.5,232.3 161,243.1 157.7,253.9 155.8,264.4 154.9,279.6 156,293.8 158.6,306.8 162.4,318.7 167,329.6 174.1,342.6 182.1,354.3 190.9,364.6 200.4,373.9M246.2,158.7 227.4,171.5 218.1,178.8 209,186.7 196.1,199.7 184.6,214 175,229.3 167.9,245.2 163.3,261.1 161.7,271.4 161,281.3M161.1,290.9 162.7,304.3 165.6,316.7 169.4,328 174.1,338.3 179.3,347.8 187.1,359.2 193.6,366.9 202.9,376.2M205.4,197.4 194.1,211.4 187.4,221.3 181.6,231.5 176.7,241.9 172.9,252.4 170,262.8 168.1,273 166.9,287.8M167.1,297.1 168.6,310.2 171.3,322.3 175,333.4 179.4,343.6 184.5,352.9 192.2,364.1 198.6,371.6 207.9,380.6M293.6,135.1 280.9,141.8 268.1,149.5 255.3,158.1 246.8,164.5 234.2,175 226,182.7 214.1,195.2 206.7,204.1 196.6,218.4 190.7,228.4 185.6,238.7 181.3,249 178,259.4 175.5,269.6 173.8,279.6 172.8,294M173,303.1 174.4,316 177,327.9 180.5,338.8 184.8,348.9 189.7,358 195.3,366.4 201.5,374 210.5,382.9M215.3,201.6 205.5,215.6 199.6,225.4 192,240.5 187.9,250.7 184.5,261 181,276.1 179.5,285.9 178.6,300M178.8,309 179.6,317.5 181.7,329.6 184.7,340.7 188.6,350.9 193.3,360.2 198.6,368.7 204.5,376.3 213.3,385.3M256.1,163.7 241.1,178.2 226.9,194.6 214,212.8 203,232.2 196.3,247.3 192.6,257.4 189.6,267.5 187.3,277.5 185.7,287.3 184.4,305.9M184.6,314.8 185.3,323.2 187.3,335.1 190.2,346.1 194,356.2 198.5,365.4 203.8,373.7 209.6,381.2 218.4,389.7M225.1,205.3 216.5,219.3 208.9,233.9 204.5,243.8 199,258.9 196.1,268.9 192.8,283.7 190.8,298 190.1,311.7M190.3,320.5 191,328.8 192.9,340.6 195.7,351.5 199.4,361.5 203.8,370.6 209,378.7 214.8,385.9 221.3,392.2M282,146.6 271.5,155.8 264.6,162.5 254.5,173.4 248,181.2 238.6,193.7 232.7,202.5 224.4,216.3 219.4,225.8 210.6,245.4 206.9,255.3 202.4,270.2 200,280 197.5,294.5 196.4,303.9 195.8,317.5M195.9,326.1 196.6,334.4 198.4,346.1 201.1,357 204.7,366.9 207.6,372.9 212.4,381.2 218,388.5 224.3,394.7M234.6,208.6 227.1,222.6 220.5,237 214.8,251.7 210,266.5 206.3,281.2 203.6,295.6 202,309.6 201.4,323.1M201.6,331.7 202.2,340 203.9,351.6 206.6,362.4 210.1,372.2 212.9,378.2 217.8,386.3 223.3,393.3 229.6,399.1M266.4,168.1 252.1,188.1 241.7,205.5 232.3,224 224.3,243.2 217.7,262.7 211.5,287.1 208.5,306.1 207.6,315.3 207.1,328.7M207.2,337.3 207.8,345.5 209.5,357.2 211.1,364.5 214.3,374.6 216.9,380.7 221.4,388.9 226.7,396 232.8,401.8M243.8,211.5 237.5,225.4 231.7,239.6 225.1,259 221.1,273.5 216.8,292.8 214.6,307.1 213.2,320.9 212.7,334.3M212.9,342.9 213.9,355.1 215,362.8 217.5,373.5 219.7,380.1 222.3,386.1 226.8,394.1 230.3,398.7 236.1,404.5M299,136.9 293.4,142.5 285,151.9 276.9,162.5 269.1,174 261.7,186.3 254.8,199.3 248.4,212.8 242.5,226.7 237.2,240.8 232.5,255.2 228.4,269.6 224.9,284.1 222.2,298.5 220.1,312.7 218.8,326.5 218.3,339.9M218.5,348.5 219.5,360.8 220.6,368.5 223.1,379.2 225.2,385.7 227.8,391.6 230.7,396.9 234,401.5 239.5,407.3M252.9,214 247.5,227.8 241.1,246.7 235.6,265.8 232.1,280.1 228.3,299.3 226.2,313.5 224.5,332.1 224,345.5M224.2,354.2 225.1,366.6 226.2,374.3 228.6,384.9 230.8,391.3 233.3,397.1 236.2,402.2 239.5,406.5 245.1,411.7M277,171.8 266.6,192.8 257.4,215.1 249.4,238.2 242.6,261.8 237.1,285.7 233,309.5 230.4,333.1 229.7,351.2M229.9,360 230.8,372.4 231.9,380.2 235.3,394 237.6,400 240.3,405.1 243.4,409.5 248.7,414.6M261.8,216.1 255.9,234.5 250.7,253.2 246.1,272.1 242.3,291.1 239.2,310.2 237.4,324.5 235.9,343.3 235.5,357M235.6,365.8 236.5,378.4 237.6,386.2 241,399.9 243.3,405.6 246,410.5 249.1,414.5 252.5,417.6M293.8,150.4 284.1,169.3 273.7,194.7 264.8,221.7 257.2,249.4 250,282.2 245.3,310.9 242.2,339.6 241.3,362.9M241.4,371.9 242.8,388.5 245.7,402.8 247.8,408.7 250.3,413.7 253.2,417.7 256.4,420.7M270.5,218 261.4,254.7 256.8,278.1 253.6,297 250.9,316.2 248.8,335.5 247.5,354.8 247.1,368.9M247.3,378 248.6,394.9 251.5,408.9 254.8,417 257.5,420.9 260.5,423.8M287.6,174.7 280.8,196.4 274.8,218.8 268.6,246.1 263.3,273.9 258.9,302.3 256,326.4 253.9,350.9 253.1,375.1M253.2,384.4 254.6,401.4 256.6,412.1 259.6,420.3 262,424.3 264.8,427.1M279,219.5 271.2,260.5 264.4,307.5 260.5,346.8 259.4,366.8 259.1,381.5M259.3,391 260.6,408.1 262.6,418.5 265.5,426 269.3,430.5M305.1,138.1 300,151.7 295.2,167.5 290.8,184.5 285.9,206.7 281.6,229.2 277.1,256.4 273.3,284.1 269.9,312.6 267.7,337.3 266,362.8 265.3,383.2 265.5,397.8 266.3,411 268,421.9 270.5,429.7 273.9,434M287.4,220.7 282.3,256.8 277.5,298.5 274,337.8 272.2,369 271.6,395 272.6,418.1 273.6,425.5 275,431.2 276.7,435.3 278.7,437.6M298.2,176.8 292.8,212.2 287.3,257.2 282.6,308.3 279.5,353.8 278.1,391.6 278.4,417 279.4,429.1 280.6,435.2 282,439.2 283.8,441.3M295.7,221.6 291.6,266.5 288,318.2 285.6,365.2 284.6,404.3M284.7,415 285.9,436.3 287,441.5 287.6,443.3 289.1,445.1M306.3,152.6 301.1,204.1 296.6,271.2 292.9,349.3 291.4,412.1M291.4,423 292.6,443.5 293.5,447.5 294.6,449M303.8,222.3 300.6,308.5 298.6,390 298.5,436.4 299,447.9 299.6,452 300.3,453.1M308.7,178.1 307.1,262.4 305.9,366.7 305.5,434.8 306.2,457.3M311.8,222.7 313,431.8M313,444 312.7,461.9M311.5,138.6 313.5,169.7 315.2,209.5 318.7,323 320.7,434.6 320.5,458.7 320.1,465.2 319.5,466.6M319.7,222.8 324.4,312.9 327.9,407.3 328.7,458.1 328.3,467.9 327.9,470.6 327.3,471.7 326.7,471.5M319.1,178.5 323.2,218.4 327.1,266.5 330.9,322.5 334.2,379.9 336.5,431.4 337.1,462.6 336.6,473.6 336,476.4 335.2,477.2 334.2,476.4M327.4,222.7 331.6,261.9 335.8,307.4 343.2,408.5 345,441.4 345.9,466.9 345.4,479.5 344.6,482.5 343.4,482.8M318.8,153.1 325,182.8 331.3,222.5 337.5,270.4 343.6,326.9 350.3,401.1 354.5,461.6 355.1,479.3 354.8,485.8 353.8,488.9 352.1,488.5M335.1,222.3 341.2,261.3 347.3,306.5 353.5,360 359.3,416.9 363.4,463.8 364.7,484.2 364.7,492.3 363.5,495.7 361.1,493.9M329.2,178.2 336.3,208.9 343.7,247.9M345.2,256.5 353.6,310.8 361.8,372.1 371.1,454.2 375,498.6M342.7,221.6 347.3,243.2M349.8,256.1 358.6,305.4 367.7,365 376.9,433.8 385,502M317.8,138.3 321.4,145.1 326.5,156.6 334.2,177.7 343.1,208.2 351.6,242.7M354.4,255.6 366.8,319.5 379.6,398.9 387.1,452.3 391.3,485.8 392.1,496.6 390.5,500.6M350.2,220.7 356.9,246.4M359,255 366.9,290.2 374.6,329.1 382,369.7 389.1,413.5 395.7,460 397.8,480.3 397.8,488.4 395.8,491.9M339.1,177 348.5,203 358.9,237.3 369,276.1 379.5,323.1 389.7,375.1 398.6,428.6 401.2,446.8 403.2,465.3 403.5,473.7 402.8,480.2M357.7,219.6 368.1,253.7 377.4,288.7 386.5,327.3 394.9,367.4 402.6,409.7 407.4,443 408.7,459.6 408.5,466.8 407.5,472.3M330.7,151.7 337.6,163.6 343.9,176.1 351.5,193.2 358.2,210.4 371.2,248.7 385,297.1 392.3,326.4 398.5,353.9 403.7,379 408.8,407.4 412.2,430.8 413.6,446.5 413.7,453.8 413.1,460 411.7,464.9M365,218.2 377,252.2 387.7,287 398,325.4 407.1,364.6 413.6,397.7 417.7,427 418.5,441.4 418.2,447.9 417.3,453.4 415.7,457.8M348.6,175 355.3,187.7 363.2,204.7 370.4,221.6 378.5,242.8 385.9,264.1 392.9,286.1 405,329.4 410.4,351.3 415.6,375.5 421.3,409.1 422.7,423 422.9,436.2 422.4,442 421.2,447.1 419.4,451.2M372.3,216.6 386,250.4 398,285.1 409.2,323.1 418.7,361.4 424.6,392.6 426.4,405.8 427.3,418.9 427,431 426.2,436.4 424.8,441 422.8,444.8M323.7,137.2 333.3,146.8 342.3,157.8 353.3,173.7 363.1,190.4 371.9,207.2 381.7,228.3 390.4,249.4 400,275.2 409,302.4 416.1,327 422.9,353.9 427.7,377.5 430.5,396.2 431.6,414.7 430.8,426 429.7,430.9 428.1,435.2M379.6,214.6 393.1,244.1 406.5,278.5 417.2,310.8 427,346.7 432.8,375.2 434.5,387.1 435.5,399 435.5,410.5 435.1,415.9 432.9,425.6 431.1,429.7M357.9,172.2 366.2,184.4 376.3,201 385.3,217.8 393.5,234.5 401.1,251.4 409.8,273 417.9,295.4 423.9,314.4 429.6,334.5 433.4,350.4 436.7,367.1 438.9,384.2 439.6,395.5 439.2,406.4 437.4,416.2 434,424.4M386.7,212.4 401.7,241.8 414.7,271.8 426.1,303.5 432,322.8 436,338 441.3,364.7 442.7,375.7 443.4,386.6 443.1,397.2 441.6,407 438.7,415.6 436.6,419.3M341.6,148.5 352.3,159.1 362.3,170.5 374.5,186.5 385.3,203 395.1,219.6 406,240.5 415.8,261.8 424.7,283.8 432.7,306.8 438.4,326.2 443.2,346.6 445.7,362.4 447,378.2 446.9,388.5 445.6,398.2 444.5,402.7 441.2,410.9M393.9,210 408.1,235 422.4,264.9 429.7,282.5 434.6,296.1 439.2,310.1 443.3,324.6 446.8,339.5 448.6,349.7 450.4,365 450.7,375.2 450.1,385 448.5,394.2 445.6,402.6 443.6,406.3M366.7,168.6 383.1,188.2 391.9,200.4 400.1,212.8 414.6,237.8 427.2,263.5 438,290.1 442.7,303.9 446.8,318.1 450.3,332.6 452.1,342.5 453.9,357.4 454.2,367.3M453.7,376.9 452.3,386 451.1,390.3 447.9,398.3M401,207.2 411.6,223.8 423.5,244.8 433.8,266.4 442.8,288.6 448.9,307 453.7,325.9 456.9,345.2 457.7,359.7M457.3,369.1 454.9,382.4 451.9,390.5 450,394.2M328.7,135.4 337.7,140.5 350.7,149.4 363.1,159.4 374.7,170.3 385.4,181.7 398.5,197.6 407.4,209.8 418.2,226.4 427.9,243.3 436.6,260.5 444.2,278.1 449.2,291.6 454.8,310 458.1,324 460.2,338.2 461.1,352.3M460.7,361.5 458.5,374.7 455.8,382.8 454,386.6M408,204.1 419.6,220.6 430,237.4 441.3,258.9 449,276.5 455.4,294.5 460.4,312.8 463.5,331.4 464.4,345.2M464,354.2 462.9,363 460.9,371.4 455.9,382.9M375,164.3 383,171.5 394.4,182.7 411.6,202.5 426.4,223.1 434.4,235.7 441.5,248.6 448,261.6 453.7,274.9 461.3,297.3 464.6,311 466.2,320.1 467.3,329.2 467.7,338.3M467.3,347.2 466.3,355.8 464.3,364.1 459.7,375.7M415.1,200.8 427.6,217.1 438.7,234 448.4,251.2 456.5,268.7 463.1,286.6 466.8,300.1 470.1,318.1 470.9,331.5M470.6,340.2 469.6,348.8 467.7,357 465,364.9 461.4,372.2M350.8,143.7 360.5,149.3 374.4,158.6 387.6,168.7 400,179.6 407.7,187.2 418.6,198.9 428.5,211.1 437.6,223.6 445.7,236.4 453,249.4 459.3,262.5 464.6,275.8 468.8,289.2 471.9,302.7 473.7,316 474.1,324.8M473.8,333.5 472.8,341.9 471,350.1 468.4,357.9 465,365.3M422,197 432.4,209.2 444.7,225.9 455.2,243.1 461.9,256.3 469.1,274 473.1,287.4 476.4,305.2 477.3,318.3M477,326.8 476,335.2 474.3,343.3 471.7,351.1 468.5,358.6M382.7,159.2 401,172.6 409.6,179.8 421.7,191.1 436.3,207.1 442.9,215.4 451.9,228.1 459.8,241.1 464.4,249.9 470.3,263.2 473.5,272.1 477.2,285.5 478.9,294.3 480,303.1 480.4,311.8M480.1,320.3 478.4,332.7 476.3,340.6 473.5,348.2 470,355.5M429,193 440.2,205 450.3,217.4 459.1,230.3 468.9,247.9 474.7,261.2 479.1,274.6 482,287.9 483.4,301M483.3,313.8 481.5,326.2 479.5,334.1 476.7,341.7 473.3,349" opacity="0.1"/></g>
<g stroke="#000" stroke-width="1.35" stroke-linecap="butt"><line x1="30" y1="430.2" x2="389.1" y2="521" /><line x1="389.1" y1="521" x2="582.1" y2="368.8" /><line x1="582.1" y1="368.8" x2="596.4" y2="94.4" /><line x1="34.1" y1="433.8" x2="40.5" y2="429.6" /><line x1="400.8" y1="519.6" x2="390.3" y2="517" /><line x1="589.5" y1="365.2" x2="579.5" y2="362.9" /><line x1="117.5" y1="454.9" x2="123.8" y2="450.6" /><line x1="449.7" y1="480.9" x2="439.3" y2="478.4" /><line x1="592.9" y1="301.7" x2="582.8" y2="299.5" /><line x1="202.8" y1="476.5" x2="208.9" y2="472.1" /><line x1="496.7" y1="443.7" x2="486.4" y2="441.2" /><line x1="596.4" y1="236.6" x2="586.1" y2="234.5" /><line x1="290" y1="498.5" x2="296" y2="494" /><line x1="542" y1="407.8" x2="531.9" y2="405.4" /><line x1="599.9" y1="170" x2="589.6" y2="167.8" /><line x1="379.1" y1="521.1" x2="385" y2="516.5" /><line x1="585.7" y1="373.2" x2="575.7" y2="370.9" /><line x1="603.6" y1="101.6" x2="593.1" y2="99.6" /></g>
<g font-size="26.5" text-anchor="middle"><text x="25.3" y="475.7"><tspan font-size="30" letter-spacing="1.5">−</tspan>1.0</text><text x="414.8" y="557.5"><tspan font-size="30" letter-spacing="1.5">−</tspan>1.0</text><text x="614.7" y="380.3"><tspan font-size="30" letter-spacing="1.5">−</tspan>1.0</text><text x="108.7" y="496.8"><tspan font-size="30" letter-spacing="1.5">−</tspan>0.5</text><text x="463.8" y="518.8"><tspan font-size="30" letter-spacing="1.5">−</tspan>0.5</text><text x="618" y="316.8"><tspan font-size="30" letter-spacing="1.5">−</tspan>0.5</text><text x="193.9" y="518.3">0.0</text><text x="510.9" y="481.7">0.0</text><text x="621.3" y="251.8">0.0</text><text x="281.1" y="540.3">0.5</text><text x="556.3" y="445.9">0.5</text><text x="624.8" y="185.2">0.5</text><text x="370.1" y="562.8">1.0</text><text x="600" y="411.3">1.0</text><text x="628.4" y="116.9">1.0</text></g>
<text transform="translate(170,552) rotate(14.2)" font-size="26.5" text-anchor="middle"><tspan font-style="italic">c</tspan><tspan font-size="18.5" dy="5">12</tspan></text>
<text transform="translate(552,508) rotate(-38.5)" font-size="26.5" text-anchor="middle"><tspan font-style="italic">c</tspan><tspan font-size="18.5" dy="5">23</tspan></text>
<text transform="translate(670,230.5) rotate(0)" font-size="26.5" text-anchor="middle"><tspan font-style="italic">c</tspan><tspan font-size="18.5" dy="5">13</tspan></text>
<rect x="0.4" y="0.7" width="63.8" height="22.15" fill="#2020fb" stroke="#1c1c1c" stroke-width="1.9"/>
<rect x="233.7" y="0.7" width="63.1" height="22.15" fill="#ff4d4d" stroke="#4d4d4d" stroke-width="1.9"/>
<rect x="442.6" y="0.7" width="63.5" height="22.15" fill="#fff" stroke="#696969" stroke-width="1.9"/>
<g font-size="30"><text x="90" y="22.5">Active</text><text x="322" y="22.5">DFS</text><text x="533" y="22.5">No ECQS</text></g>
</svg>
</body></html>
